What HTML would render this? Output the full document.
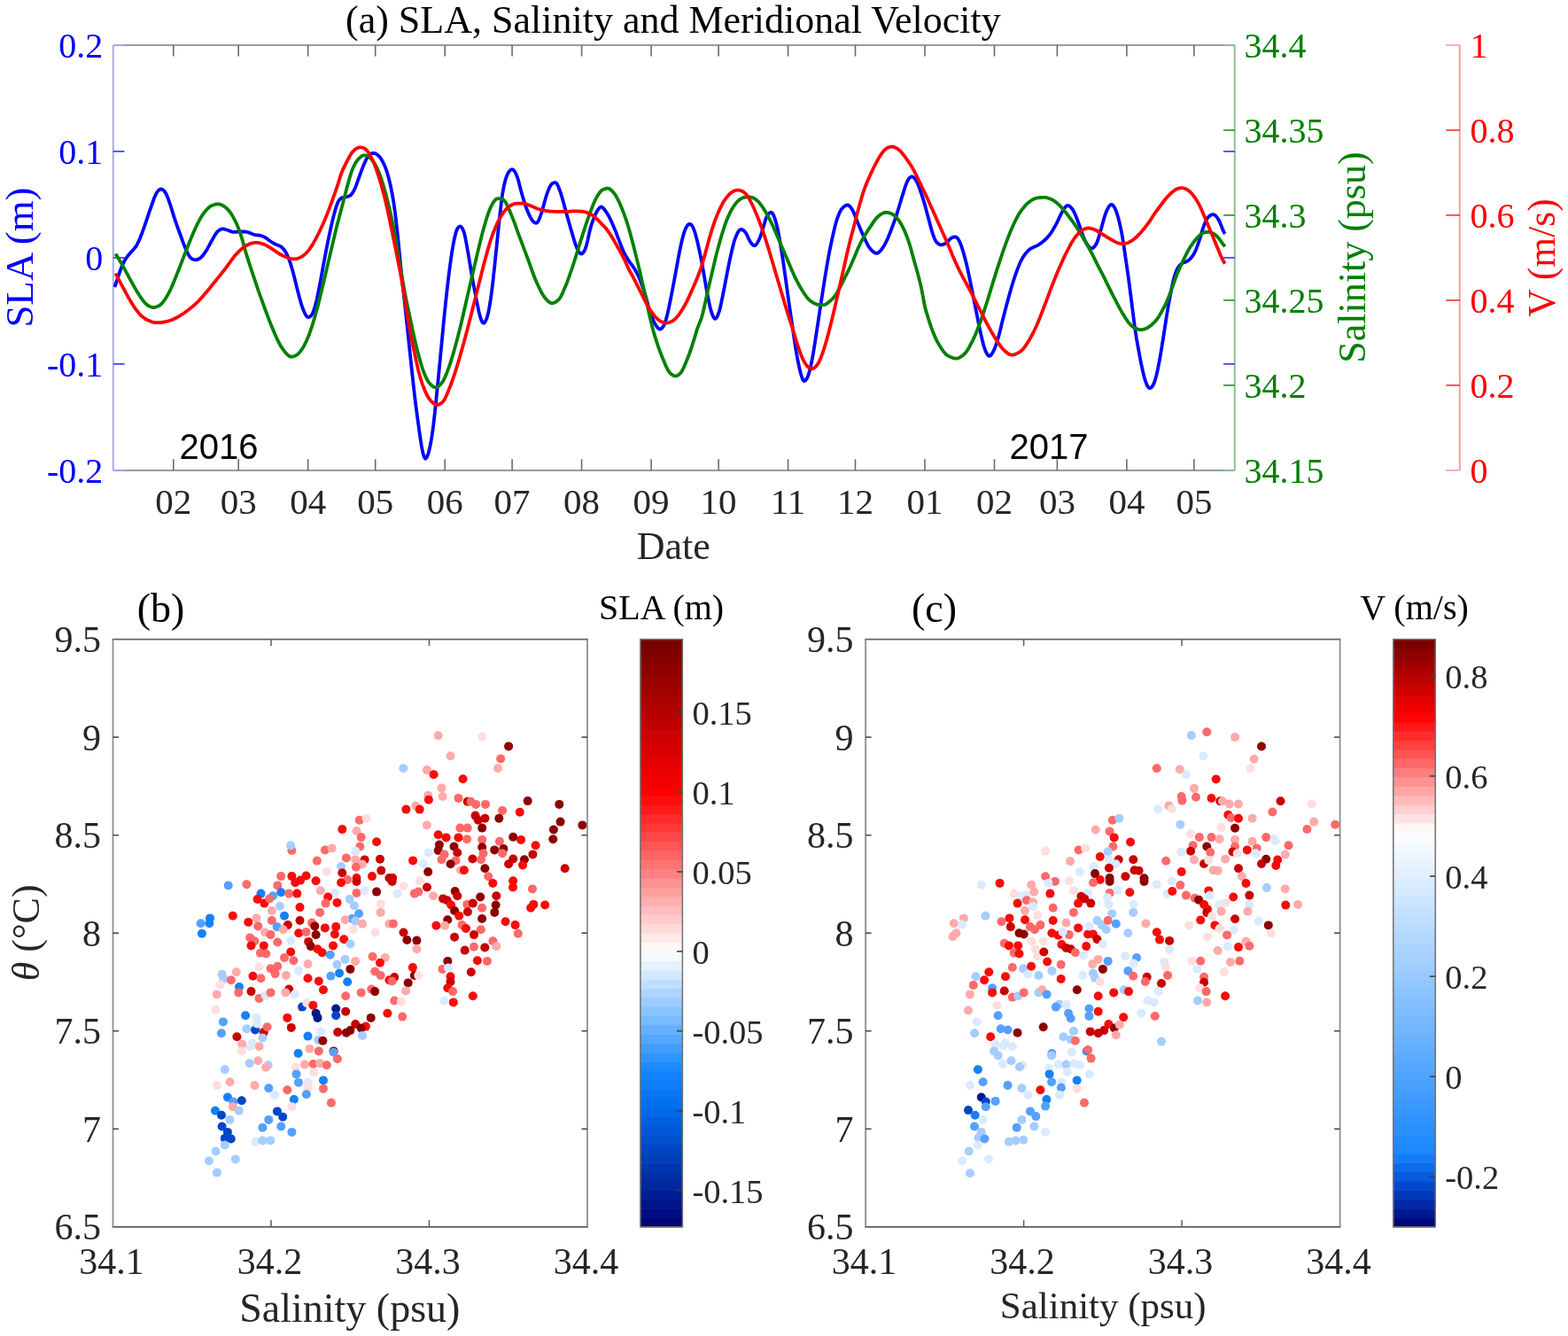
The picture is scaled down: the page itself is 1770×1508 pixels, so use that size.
<!DOCTYPE html>
<html><head><meta charset="utf-8"><title>SLA, Salinity and Meridional Velocity</title>
<style>html,body{margin:0;padding:0;background:#fff;}svg{display:block;}</style></head>
<body><svg width="1770" height="1508" viewBox="0 0 1770 1508"><line x1="127.8" y1="50.9" x2="1393.8" y2="50.9" stroke="#9a9a9a" stroke-width="2"/>
<line x1="127.8" y1="531.0" x2="1393.8" y2="531.0" stroke="#9a9a9a" stroke-width="2"/>
<line x1="127.8" y1="50.9" x2="127.8" y2="531.0" stroke="#a8a8f6" stroke-width="2"/>
<line x1="1393.8" y1="50.9" x2="1393.8" y2="531.0" stroke="#8cc28c" stroke-width="2"/>
<line x1="195.8" y1="50.9" x2="195.8" y2="63.6" stroke="#6a6a6a" stroke-width="1.6"/>
<line x1="195.8" y1="531.0" x2="195.8" y2="518.3" stroke="#6a6a6a" stroke-width="1.6"/>
<line x1="269.2" y1="50.9" x2="269.2" y2="63.6" stroke="#6a6a6a" stroke-width="1.6"/>
<line x1="269.2" y1="531.0" x2="269.2" y2="518.3" stroke="#6a6a6a" stroke-width="1.6"/>
<line x1="347.7" y1="50.9" x2="347.7" y2="63.6" stroke="#6a6a6a" stroke-width="1.6"/>
<line x1="347.7" y1="531.0" x2="347.7" y2="518.3" stroke="#6a6a6a" stroke-width="1.6"/>
<line x1="423.7" y1="50.9" x2="423.7" y2="63.6" stroke="#6a6a6a" stroke-width="1.6"/>
<line x1="423.7" y1="531.0" x2="423.7" y2="518.3" stroke="#6a6a6a" stroke-width="1.6"/>
<line x1="502.2" y1="50.9" x2="502.2" y2="63.6" stroke="#6a6a6a" stroke-width="1.6"/>
<line x1="502.2" y1="531.0" x2="502.2" y2="518.3" stroke="#6a6a6a" stroke-width="1.6"/>
<line x1="578.1" y1="50.9" x2="578.1" y2="63.6" stroke="#6a6a6a" stroke-width="1.6"/>
<line x1="578.1" y1="531.0" x2="578.1" y2="518.3" stroke="#6a6a6a" stroke-width="1.6"/>
<line x1="656.6" y1="50.9" x2="656.6" y2="63.6" stroke="#6a6a6a" stroke-width="1.6"/>
<line x1="656.6" y1="531.0" x2="656.6" y2="518.3" stroke="#6a6a6a" stroke-width="1.6"/>
<line x1="735.1" y1="50.9" x2="735.1" y2="63.6" stroke="#6a6a6a" stroke-width="1.6"/>
<line x1="735.1" y1="531.0" x2="735.1" y2="518.3" stroke="#6a6a6a" stroke-width="1.6"/>
<line x1="811.1" y1="50.9" x2="811.1" y2="63.6" stroke="#6a6a6a" stroke-width="1.6"/>
<line x1="811.1" y1="531.0" x2="811.1" y2="518.3" stroke="#6a6a6a" stroke-width="1.6"/>
<line x1="889.6" y1="50.9" x2="889.6" y2="63.6" stroke="#6a6a6a" stroke-width="1.6"/>
<line x1="889.6" y1="531.0" x2="889.6" y2="518.3" stroke="#6a6a6a" stroke-width="1.6"/>
<line x1="965.5" y1="50.9" x2="965.5" y2="63.6" stroke="#6a6a6a" stroke-width="1.6"/>
<line x1="965.5" y1="531.0" x2="965.5" y2="518.3" stroke="#6a6a6a" stroke-width="1.6"/>
<line x1="1044.0" y1="50.9" x2="1044.0" y2="63.6" stroke="#6a6a6a" stroke-width="1.6"/>
<line x1="1044.0" y1="531.0" x2="1044.0" y2="518.3" stroke="#6a6a6a" stroke-width="1.6"/>
<line x1="1122.5" y1="50.9" x2="1122.5" y2="63.6" stroke="#6a6a6a" stroke-width="1.6"/>
<line x1="1122.5" y1="531.0" x2="1122.5" y2="518.3" stroke="#6a6a6a" stroke-width="1.6"/>
<line x1="1193.4" y1="50.9" x2="1193.4" y2="63.6" stroke="#6a6a6a" stroke-width="1.6"/>
<line x1="1193.4" y1="531.0" x2="1193.4" y2="518.3" stroke="#6a6a6a" stroke-width="1.6"/>
<line x1="1271.9" y1="50.9" x2="1271.9" y2="63.6" stroke="#6a6a6a" stroke-width="1.6"/>
<line x1="1271.9" y1="531.0" x2="1271.9" y2="518.3" stroke="#6a6a6a" stroke-width="1.6"/>
<line x1="1347.9" y1="50.9" x2="1347.9" y2="63.6" stroke="#6a6a6a" stroke-width="1.6"/>
<line x1="1347.9" y1="531.0" x2="1347.9" y2="518.3" stroke="#6a6a6a" stroke-width="1.6"/>
<line x1="127.8" y1="50.9" x2="140.5" y2="50.9" stroke="#a8a8f6" stroke-width="1.6"/>
<text x="116.3" y="65.1" font-size="40" fill="#0000ff" text-anchor="end" font-family="'Liberation Serif','Times New Roman',serif">0.2</text>
<line x1="127.8" y1="170.9" x2="140.5" y2="170.9" stroke="#3030fa" stroke-width="1.6"/>
<line x1="1393.8" y1="170.9" x2="1381.1" y2="170.9" stroke="#3030fa" stroke-width="1.6"/>
<text x="116.3" y="185.1" font-size="40" fill="#0000ff" text-anchor="end" font-family="'Liberation Serif','Times New Roman',serif">0.1</text>
<line x1="127.8" y1="290.9" x2="140.5" y2="290.9" stroke="#3030fa" stroke-width="1.6"/>
<line x1="1393.8" y1="290.9" x2="1381.1" y2="290.9" stroke="#3030fa" stroke-width="1.6"/>
<text x="116.3" y="305.1" font-size="40" fill="#0000ff" text-anchor="end" font-family="'Liberation Serif','Times New Roman',serif">0</text>
<line x1="127.8" y1="410.9" x2="140.5" y2="410.9" stroke="#3030fa" stroke-width="1.6"/>
<line x1="1393.8" y1="410.9" x2="1381.1" y2="410.9" stroke="#3030fa" stroke-width="1.6"/>
<text x="116.3" y="425.1" font-size="40" fill="#0000ff" text-anchor="end" font-family="'Liberation Serif','Times New Roman',serif">-0.1</text>
<line x1="127.8" y1="530.9" x2="140.5" y2="530.9" stroke="#a8a8f6" stroke-width="1.6"/>
<text x="116.3" y="545.1" font-size="40" fill="#0000ff" text-anchor="end" font-family="'Liberation Serif','Times New Roman',serif">-0.2</text>
<line x1="1393.8" y1="50.9" x2="1381.1" y2="50.9" stroke="#8cc28c" stroke-width="1.6"/>
<text x="1404.5" y="65.1" font-size="40" fill="#008000" text-anchor="start" font-family="'Liberation Serif','Times New Roman',serif">34.4</text>
<line x1="1393.8" y1="146.9" x2="1381.1" y2="146.9" stroke="#2a8a2a" stroke-width="1.6"/>
<text x="1404.5" y="161.1" font-size="40" fill="#008000" text-anchor="start" font-family="'Liberation Serif','Times New Roman',serif">34.35</text>
<line x1="1393.8" y1="242.9" x2="1381.1" y2="242.9" stroke="#2a8a2a" stroke-width="1.6"/>
<text x="1404.5" y="257.1" font-size="40" fill="#008000" text-anchor="start" font-family="'Liberation Serif','Times New Roman',serif">34.3</text>
<line x1="1393.8" y1="338.9" x2="1381.1" y2="338.9" stroke="#2a8a2a" stroke-width="1.6"/>
<text x="1404.5" y="353.1" font-size="40" fill="#008000" text-anchor="start" font-family="'Liberation Serif','Times New Roman',serif">34.25</text>
<line x1="1393.8" y1="434.9" x2="1381.1" y2="434.9" stroke="#2a8a2a" stroke-width="1.6"/>
<text x="1404.5" y="449.1" font-size="40" fill="#008000" text-anchor="start" font-family="'Liberation Serif','Times New Roman',serif">34.2</text>
<line x1="1393.8" y1="530.9" x2="1381.1" y2="530.9" stroke="#8cc28c" stroke-width="1.6"/>
<text x="1404.5" y="545.1" font-size="40" fill="#008000" text-anchor="start" font-family="'Liberation Serif','Times New Roman',serif">34.15</text>
<line x1="1647.8" y1="50.9" x2="1647.8" y2="531.0" stroke="#f6a0a0" stroke-width="2"/>
<line x1="1647.8" y1="50.9" x2="1632.3" y2="50.9" stroke="#f6a0a0" stroke-width="1.6"/>
<text x="1659.5" y="65.1" font-size="40" fill="#ff0000" text-anchor="start" font-family="'Liberation Serif','Times New Roman',serif">1</text>
<line x1="1647.8" y1="146.9" x2="1632.3" y2="146.9" stroke="#f83030" stroke-width="1.6"/>
<text x="1659.5" y="161.1" font-size="40" fill="#ff0000" text-anchor="start" font-family="'Liberation Serif','Times New Roman',serif">0.8</text>
<line x1="1647.8" y1="242.9" x2="1632.3" y2="242.9" stroke="#f83030" stroke-width="1.6"/>
<text x="1659.5" y="257.1" font-size="40" fill="#ff0000" text-anchor="start" font-family="'Liberation Serif','Times New Roman',serif">0.6</text>
<line x1="1647.8" y1="338.9" x2="1632.3" y2="338.9" stroke="#f83030" stroke-width="1.6"/>
<text x="1659.5" y="353.1" font-size="40" fill="#ff0000" text-anchor="start" font-family="'Liberation Serif','Times New Roman',serif">0.4</text>
<line x1="1647.8" y1="434.9" x2="1632.3" y2="434.9" stroke="#f83030" stroke-width="1.6"/>
<text x="1659.5" y="449.1" font-size="40" fill="#ff0000" text-anchor="start" font-family="'Liberation Serif','Times New Roman',serif">0.2</text>
<line x1="1647.8" y1="530.9" x2="1632.3" y2="530.9" stroke="#f6a0a0" stroke-width="1.6"/>
<text x="1659.5" y="545.1" font-size="40" fill="#ff0000" text-anchor="start" font-family="'Liberation Serif','Times New Roman',serif">0</text>
<text x="195.8" y="580.3" font-size="41" fill="#262626" text-anchor="middle" font-family="'Liberation Serif','Times New Roman',serif">02</text>
<text x="269.2" y="580.3" font-size="41" fill="#262626" text-anchor="middle" font-family="'Liberation Serif','Times New Roman',serif">03</text>
<text x="347.7" y="580.3" font-size="41" fill="#262626" text-anchor="middle" font-family="'Liberation Serif','Times New Roman',serif">04</text>
<text x="423.7" y="580.3" font-size="41" fill="#262626" text-anchor="middle" font-family="'Liberation Serif','Times New Roman',serif">05</text>
<text x="502.2" y="580.3" font-size="41" fill="#262626" text-anchor="middle" font-family="'Liberation Serif','Times New Roman',serif">06</text>
<text x="578.1" y="580.3" font-size="41" fill="#262626" text-anchor="middle" font-family="'Liberation Serif','Times New Roman',serif">07</text>
<text x="656.6" y="580.3" font-size="41" fill="#262626" text-anchor="middle" font-family="'Liberation Serif','Times New Roman',serif">08</text>
<text x="735.1" y="580.3" font-size="41" fill="#262626" text-anchor="middle" font-family="'Liberation Serif','Times New Roman',serif">09</text>
<text x="811.1" y="580.3" font-size="41" fill="#262626" text-anchor="middle" font-family="'Liberation Serif','Times New Roman',serif">10</text>
<text x="889.6" y="580.3" font-size="41" fill="#262626" text-anchor="middle" font-family="'Liberation Serif','Times New Roman',serif">11</text>
<text x="965.5" y="580.3" font-size="41" fill="#262626" text-anchor="middle" font-family="'Liberation Serif','Times New Roman',serif">12</text>
<text x="1044.0" y="580.3" font-size="41" fill="#262626" text-anchor="middle" font-family="'Liberation Serif','Times New Roman',serif">01</text>
<text x="1122.5" y="580.3" font-size="41" fill="#262626" text-anchor="middle" font-family="'Liberation Serif','Times New Roman',serif">02</text>
<text x="1193.4" y="580.3" font-size="41" fill="#262626" text-anchor="middle" font-family="'Liberation Serif','Times New Roman',serif">03</text>
<text x="1271.9" y="580.3" font-size="41" fill="#262626" text-anchor="middle" font-family="'Liberation Serif','Times New Roman',serif">04</text>
<text x="1347.9" y="580.3" font-size="41" fill="#262626" text-anchor="middle" font-family="'Liberation Serif','Times New Roman',serif">05</text>
<text x="760.2" y="631.0" font-size="44" fill="#262626" text-anchor="middle" font-family="'Liberation Serif','Times New Roman',serif">Date</text>
<text x="759.9" y="36.6" font-size="44" fill="#000" text-anchor="middle" font-family="'Liberation Serif','Times New Roman',serif">(a) SLA, Salinity and Meridional Velocity</text>
<text x="247.0" y="518.3" font-size="40" fill="#000" text-anchor="middle" font-family="'Liberation Sans',Arial,sans-serif">2016</text>
<text x="1184.0" y="518.3" font-size="40" fill="#000" text-anchor="middle" font-family="'Liberation Sans',Arial,sans-serif">2017</text>
<text transform="translate(37.3,290.6) rotate(-90)" font-size="44.8" fill="#0000ff" text-anchor="middle" font-family="'Liberation Serif','Times New Roman',serif">SLA (m)</text>
<text transform="translate(1541.4,290.6) rotate(-90)" font-size="44" fill="#008000" text-anchor="middle" font-family="'Liberation Serif','Times New Roman',serif">Salinity (psu)</text>
<text transform="translate(1755,291) rotate(-90)" font-size="43.5" fill="#ff0000" text-anchor="middle" font-family="'Liberation Serif','Times New Roman',serif">V (m/s)</text>
<path d="M129.3,323.9 L130.8,320.3 L132.3,315.7 L133.8,311.1 L135.3,306.6 L136.8,302.5 L138.3,298.9 L139.8,295.8 L141.3,293.1 L142.8,290.8 L144.3,288.8 L145.8,287.0 L147.3,285.3 L148.8,283.6 L150.3,282.0 L151.8,280.3 L153.3,278.4 L154.8,275.9 L156.3,272.9 L157.8,269.5 L159.3,265.8 L160.8,261.9 L162.3,257.6 L163.8,253.3 L165.3,248.9 L166.8,244.4 L168.3,239.9 L169.8,235.6 L171.3,231.3 L172.8,227.0 L174.3,222.9 L175.8,219.4 L177.3,216.9 L178.8,215.1 L180.3,213.9 L181.8,213.4 L183.3,213.8 L184.8,215.0 L186.3,216.8 L187.8,219.3 L189.3,222.9 L190.8,227.1 L192.3,231.5 L193.8,236.2 L195.3,241.1 L196.8,245.9 L198.3,250.3 L199.8,254.6 L201.3,258.8 L202.8,262.9 L204.3,267.0 L205.8,271.2 L207.3,275.3 L208.8,279.1 L210.3,282.5 L211.8,285.6 L213.3,288.5 L214.8,290.6 L216.3,291.9 L217.8,292.7 L219.3,293.2 L220.8,293.4 L222.3,293.2 L223.8,292.6 L225.3,291.8 L226.8,290.7 L228.3,289.2 L229.8,287.3 L231.3,285.2 L232.8,282.9 L234.3,280.4 L235.8,277.7 L237.3,274.9 L238.8,272.2 L240.3,269.5 L241.8,266.8 L243.3,264.3 L244.8,262.2 L246.3,260.7 L247.8,259.6 L249.3,258.8 L250.8,258.4 L252.3,258.4 L253.8,258.8 L255.3,259.3 L256.8,259.8 L258.3,260.3 L259.8,260.9 L261.3,261.4 L262.8,261.8 L264.3,261.8 L265.8,261.8 L267.3,261.7 L268.8,261.6 L270.3,261.6 L271.8,261.6 L273.3,261.5 L274.8,261.5 L276.3,261.5 L277.8,261.7 L279.3,262.0 L280.8,262.5 L282.3,263.1 L283.8,263.7 L285.3,264.3 L286.8,264.8 L288.3,265.1 L289.8,265.3 L291.3,265.5 L292.8,265.7 L294.3,266.0 L295.8,266.5 L297.3,267.1 L298.8,267.8 L300.3,268.7 L301.8,269.7 L303.3,270.9 L304.8,272.0 L306.3,273.0 L307.8,274.0 L309.3,274.8 L310.8,275.6 L312.3,276.3 L313.8,276.8 L315.3,277.4 L316.8,278.1 L318.3,279.3 L319.8,280.8 L321.3,282.7 L322.8,285.1 L324.3,288.1 L325.8,291.6 L327.3,295.7 L328.8,300.4 L330.3,305.5 L331.8,311.2 L333.3,317.2 L334.8,323.2 L336.3,329.3 L337.8,335.1 L339.3,340.4 L340.8,345.3 L342.3,349.6 L343.8,353.1 L345.3,355.9 L346.8,357.7 L348.3,358.1 L349.8,357.5 L351.3,356.2 L352.8,353.9 L354.3,350.0 L355.8,345.0 L357.3,339.1 L358.8,332.3 L360.3,324.9 L361.8,317.1 L363.3,308.8 L364.8,300.5 L366.3,292.5 L367.8,284.6 L369.3,276.9 L370.8,269.6 L372.3,262.5 L373.8,255.7 L375.3,249.1 L376.8,242.9 L378.3,237.4 L379.8,232.6 L381.3,228.6 L382.8,225.9 L384.3,224.3 L385.8,223.3 L387.3,222.8 L388.8,222.6 L390.3,222.3 L391.8,222.0 L393.3,221.6 L394.8,221.0 L396.3,219.9 L397.8,218.0 L399.3,215.4 L400.8,212.4 L402.3,208.6 L403.8,204.3 L405.3,200.1 L406.8,196.0 L408.3,192.0 L409.8,188.1 L411.3,184.6 L412.8,181.2 L414.3,178.3 L415.8,176.2 L417.3,174.7 L418.8,173.6 L420.3,173.0 L421.8,172.8 L423.3,173.1 L424.8,173.9 L426.3,174.9 L427.8,176.3 L429.3,178.0 L430.8,180.3 L432.3,183.0 L433.8,186.1 L435.3,189.8 L436.8,194.2 L438.3,199.3 L439.8,205.1 L441.3,211.6 L442.8,219.2 L444.3,228.1 L445.8,238.7 L447.3,251.1 L448.8,264.8 L450.3,279.7 L451.8,295.2 L453.3,309.7 L454.8,323.2 L456.3,337.0 L457.8,351.1 L459.3,365.3 L460.8,379.5 L462.3,393.7 L463.8,407.7 L465.3,421.7 L466.8,435.5 L468.3,448.6 L469.8,460.7 L471.3,472.0 L472.8,482.8 L474.3,493.5 L475.8,503.3 L477.3,510.9 L478.8,516.0 L480.3,517.8 L481.8,516.2 L483.3,512.5 L484.8,507.1 L486.3,499.7 L487.8,490.5 L489.3,479.5 L490.8,466.2 L492.3,451.7 L493.8,436.9 L495.3,421.7 L496.8,406.1 L498.3,390.4 L499.8,374.5 L501.3,358.9 L502.8,344.1 L504.3,330.2 L505.8,317.1 L507.3,305.0 L508.8,293.8 L510.3,283.7 L511.8,275.0 L513.3,267.7 L514.8,261.8 L516.3,258.0 L517.8,256.1 L519.3,255.4 L520.8,256.2 L522.3,258.5 L523.8,262.3 L525.3,268.5 L526.8,276.5 L528.3,285.0 L529.8,293.9 L531.3,303.1 L532.8,311.9 L534.3,320.1 L535.8,328.0 L537.3,335.7 L538.8,343.4 L540.3,350.6 L541.8,356.6 L543.3,361.3 L544.8,364.3 L546.3,364.8 L547.8,363.0 L549.3,359.7 L550.8,354.8 L552.3,347.4 L553.8,338.1 L555.3,327.2 L556.8,314.4 L558.3,300.4 L559.8,285.9 L561.3,271.0 L562.8,256.3 L564.3,242.5 L565.8,229.5 L567.3,218.3 L568.8,210.0 L570.3,203.9 L571.8,199.2 L573.3,195.7 L574.8,193.4 L576.3,191.9 L577.8,191.2 L579.3,191.5 L580.8,193.2 L582.3,195.9 L583.8,199.5 L585.3,204.3 L586.8,210.2 L588.3,216.0 L589.8,221.3 L591.3,226.3 L592.8,231.0 L594.3,235.3 L595.8,239.0 L597.3,242.3 L598.8,245.4 L600.3,248.0 L601.8,249.9 L603.3,251.1 L604.8,251.8 L606.3,251.5 L607.8,249.3 L609.3,245.8 L610.8,241.7 L612.3,236.9 L613.8,231.3 L615.3,225.7 L616.8,220.6 L618.3,216.4 L619.8,212.7 L621.3,209.7 L622.8,207.7 L624.3,206.7 L625.8,206.1 L627.3,206.2 L628.8,207.7 L630.3,210.8 L631.8,214.7 L633.3,219.0 L634.8,224.0 L636.3,229.5 L637.8,235.1 L639.3,240.6 L640.8,245.9 L642.3,251.3 L643.8,256.5 L645.3,261.6 L646.8,266.7 L648.3,271.7 L649.8,276.4 L651.3,280.2 L652.8,283.2 L654.3,285.4 L655.8,286.6 L657.3,286.2 L658.8,284.5 L660.3,281.9 L661.8,277.7 L663.3,271.6 L664.8,264.7 L666.3,258.4 L667.8,253.2 L669.3,248.9 L670.8,244.9 L672.3,241.6 L673.8,238.7 L675.3,236.3 L676.8,234.3 L678.3,233.4 L679.8,233.8 L681.3,235.3 L682.8,237.2 L684.3,239.3 L685.8,241.5 L687.3,244.2 L688.8,247.2 L690.3,250.4 L691.8,253.7 L693.3,257.2 L694.8,260.9 L696.3,264.8 L697.8,268.7 L699.3,272.6 L700.8,276.5 L702.3,280.3 L703.8,283.8 L705.3,286.8 L706.8,289.6 L708.3,292.1 L709.8,294.4 L711.3,296.6 L712.8,298.5 L714.3,300.5 L715.8,302.8 L717.3,305.3 L718.8,308.0 L720.3,311.0 L721.8,314.3 L723.3,318.0 L724.8,322.1 L726.3,326.5 L727.8,331.1 L729.3,336.2 L730.8,341.6 L732.3,346.9 L733.8,351.7 L735.3,356.1 L736.8,360.1 L738.3,363.6 L739.8,366.3 L741.3,368.5 L742.8,370.4 L744.3,371.5 L745.8,371.5 L747.3,370.4 L748.8,368.5 L750.3,365.4 L751.8,360.8 L753.3,355.1 L754.8,348.4 L756.3,341.1 L757.8,333.5 L759.3,325.8 L760.8,317.9 L762.3,309.9 L763.8,301.6 L765.3,293.3 L766.8,285.4 L768.3,278.2 L769.8,271.5 L771.3,265.6 L772.8,260.8 L774.3,257.2 L775.8,254.7 L777.3,253.2 L778.8,252.8 L780.3,253.7 L781.8,255.7 L783.3,259.0 L784.8,263.5 L786.3,269.0 L787.8,275.3 L789.3,282.1 L790.8,289.1 L792.3,296.7 L793.8,305.1 L795.3,313.8 L796.8,322.6 L798.3,331.0 L799.8,338.7 L801.3,345.7 L802.8,351.4 L804.3,355.7 L805.8,358.7 L807.3,359.9 L808.8,358.7 L810.3,355.9 L811.8,351.7 L813.3,345.9 L814.8,338.9 L816.3,331.5 L817.8,323.8 L819.3,316.0 L820.8,308.2 L822.3,300.6 L823.8,293.3 L825.3,286.4 L826.8,280.0 L828.3,274.1 L829.8,269.3 L831.3,265.6 L832.8,262.5 L834.3,260.2 L835.8,259.0 L837.3,259.0 L838.8,259.8 L840.3,260.9 L841.8,262.7 L843.3,265.5 L844.8,268.9 L846.3,271.9 L847.8,274.2 L849.3,276.0 L850.8,277.2 L852.3,277.2 L853.8,275.8 L855.3,273.4 L856.8,270.5 L858.3,266.9 L859.8,262.5 L861.3,257.7 L862.8,252.4 L864.3,247.4 L865.8,243.7 L867.3,241.6 L868.8,240.3 L870.3,239.7 L871.8,240.5 L873.3,243.2 L874.8,247.1 L876.3,252.1 L877.8,258.5 L879.3,266.2 L880.8,274.6 L882.3,283.7 L883.8,293.6 L885.3,303.8 L886.8,314.4 L888.3,325.3 L889.8,336.2 L891.3,346.7 L892.8,357.1 L894.3,367.3 L895.8,377.5 L897.3,387.6 L898.8,397.0 L900.3,405.3 L901.8,412.7 L903.3,419.2 L904.8,424.7 L906.3,428.8 L907.8,430.2 L909.3,429.3 L910.8,427.2 L912.3,424.0 L913.8,419.0 L915.3,412.6 L916.8,405.3 L918.3,396.8 L919.8,387.5 L921.3,378.0 L922.8,368.1 L924.3,358.1 L925.8,348.1 L927.3,338.4 L928.8,328.7 L930.3,319.2 L931.8,309.8 L933.3,300.7 L934.8,292.1 L936.3,284.1 L937.8,276.7 L939.3,269.7 L940.8,263.0 L942.3,256.6 L943.8,250.8 L945.3,246.1 L946.8,242.2 L948.3,238.8 L949.8,236.3 L951.3,234.6 L952.8,233.2 L954.3,232.1 L955.8,231.5 L957.3,231.5 L958.8,232.4 L960.3,234.0 L961.8,236.1 L963.3,239.0 L964.8,242.6 L966.3,246.3 L967.8,250.1 L969.3,253.9 L970.8,257.5 L972.3,261.1 L973.8,264.5 L975.3,267.7 L976.8,270.9 L978.3,274.0 L979.8,276.9 L981.3,279.4 L982.8,281.4 L984.3,282.9 L985.8,284.2 L987.3,285.2 L988.8,285.9 L990.3,285.8 L991.8,285.0 L993.3,283.6 L994.8,282.0 L996.3,280.0 L997.8,277.6 L999.3,274.9 L1000.8,272.0 L1002.3,268.7 L1003.8,265.0 L1005.3,261.2 L1006.8,257.2 L1008.3,253.3 L1009.8,249.2 L1011.3,244.9 L1012.8,240.2 L1014.3,235.3 L1015.8,230.3 L1017.3,225.3 L1018.8,220.4 L1020.3,215.6 L1021.8,210.9 L1023.3,206.7 L1024.8,203.5 L1026.3,201.2 L1027.8,199.8 L1029.3,199.3 L1030.8,199.9 L1032.3,201.2 L1033.8,203.2 L1035.3,206.0 L1036.8,209.6 L1038.3,213.6 L1039.8,217.8 L1041.3,222.3 L1042.8,227.1 L1044.3,232.3 L1045.8,237.9 L1047.3,243.6 L1048.8,249.3 L1050.3,255.0 L1051.8,260.4 L1053.3,265.1 L1054.8,269.0 L1056.3,272.1 L1057.8,274.1 L1059.3,275.3 L1060.8,276.1 L1062.3,276.4 L1063.8,276.2 L1065.3,275.7 L1066.8,275.0 L1068.3,274.0 L1069.8,272.7 L1071.3,271.0 L1072.8,269.4 L1074.3,268.4 L1075.8,267.8 L1077.3,267.4 L1078.8,267.4 L1080.3,268.3 L1081.8,270.2 L1083.3,273.0 L1084.8,276.6 L1086.3,281.0 L1087.8,285.9 L1089.3,291.4 L1090.8,297.3 L1092.3,303.8 L1093.8,310.9 L1095.3,318.1 L1096.8,325.4 L1098.3,332.9 L1099.8,340.5 L1101.3,348.1 L1102.8,355.7 L1104.3,363.2 L1105.8,370.5 L1107.3,377.3 L1108.8,383.8 L1110.3,389.7 L1111.8,394.5 L1113.3,398.0 L1114.8,400.5 L1116.3,401.9 L1117.8,401.6 L1119.3,400.0 L1120.8,397.5 L1122.3,394.6 L1123.8,390.8 L1125.3,386.3 L1126.8,381.4 L1128.3,375.8 L1129.8,369.7 L1131.3,363.4 L1132.8,357.5 L1134.3,351.6 L1135.8,345.9 L1137.3,340.2 L1138.8,334.8 L1140.3,329.5 L1141.8,324.3 L1143.3,319.3 L1144.8,314.5 L1146.3,310.1 L1147.8,305.9 L1149.3,301.9 L1150.8,298.1 L1152.3,294.8 L1153.8,292.1 L1155.3,289.6 L1156.8,287.4 L1158.3,285.4 L1159.8,283.7 L1161.3,282.3 L1162.8,281.1 L1164.3,280.2 L1165.8,279.4 L1167.3,278.7 L1168.8,278.1 L1170.3,277.4 L1171.8,276.6 L1173.3,275.7 L1174.8,274.7 L1176.3,273.6 L1177.8,272.3 L1179.3,271.0 L1180.8,269.6 L1182.3,268.0 L1183.8,266.3 L1185.3,264.4 L1186.8,262.3 L1188.3,259.9 L1189.8,257.3 L1191.3,254.7 L1192.8,251.9 L1194.3,248.8 L1195.8,245.6 L1197.3,242.4 L1198.8,239.5 L1200.3,237.0 L1201.8,234.8 L1203.3,232.9 L1204.8,232.0 L1206.3,232.1 L1207.8,233.1 L1209.3,234.6 L1210.8,236.5 L1212.3,239.1 L1213.8,242.3 L1215.3,246.0 L1216.8,250.0 L1218.3,254.0 L1219.8,258.3 L1221.3,262.7 L1222.8,267.0 L1224.3,270.6 L1225.8,273.4 L1227.3,275.9 L1228.8,278.0 L1230.3,279.6 L1231.8,280.4 L1233.3,280.2 L1234.8,279.0 L1236.3,277.2 L1237.8,274.8 L1239.3,271.0 L1240.8,266.1 L1242.3,260.8 L1243.8,255.4 L1245.3,249.9 L1246.8,244.7 L1248.3,240.3 L1249.8,236.8 L1251.3,233.9 L1252.8,231.9 L1254.3,230.9 L1255.8,231.2 L1257.3,232.9 L1258.8,235.7 L1260.3,239.4 L1261.8,244.0 L1263.3,249.7 L1264.8,256.1 L1266.3,263.5 L1267.8,272.3 L1269.3,282.4 L1270.8,292.7 L1272.3,303.0 L1273.8,313.6 L1275.3,324.9 L1276.8,336.6 L1278.3,348.6 L1279.8,360.3 L1281.3,371.4 L1282.8,381.3 L1284.3,389.9 L1285.8,398.0 L1287.3,406.0 L1288.8,413.5 L1290.3,420.2 L1291.8,426.2 L1293.3,431.1 L1294.8,434.7 L1296.3,437.2 L1297.8,438.3 L1299.3,437.8 L1300.8,436.1 L1302.3,433.4 L1303.8,429.3 L1305.3,424.0 L1306.8,417.5 L1308.3,409.9 L1309.8,401.6 L1311.3,392.7 L1312.8,383.4 L1314.3,373.8 L1315.8,363.9 L1317.3,354.3 L1318.8,345.3 L1320.3,336.9 L1321.8,329.1 L1323.3,321.9 L1324.8,315.4 L1326.3,310.1 L1327.8,305.9 L1329.3,302.7 L1330.8,300.5 L1332.3,298.9 L1333.8,297.7 L1335.3,296.8 L1336.8,296.2 L1338.3,295.7 L1339.8,295.0 L1341.3,294.0 L1342.8,292.8 L1344.3,291.4 L1345.8,289.5 L1347.3,287.2 L1348.8,284.5 L1350.3,281.2 L1351.8,277.2 L1353.3,272.8 L1354.8,268.1 L1356.3,263.1 L1357.8,258.2 L1359.3,253.9 L1360.8,250.4 L1362.3,247.4 L1363.8,245.2 L1365.3,243.8 L1366.8,242.8 L1368.3,242.2 L1369.8,242.1 L1371.3,242.8 L1372.8,244.1 L1374.3,245.9 L1375.8,248.4 L1377.3,251.6 L1378.8,255.4 L1380.3,259.2 L1381.8,262.4 L1382.8,263.8" fill="none" stroke="#0000ff" stroke-width="3.8" stroke-linejoin="round" stroke-linecap="butt"/>
<path d="M130.3,286.6 L131.8,288.5 L133.3,290.9 L134.8,293.4 L136.3,296.0 L137.8,298.7 L139.3,301.4 L140.8,304.2 L142.3,306.9 L143.8,309.7 L145.3,312.4 L146.8,315.1 L148.3,317.9 L149.8,320.6 L151.3,323.3 L152.8,325.9 L154.3,328.5 L155.8,330.9 L157.3,333.3 L158.8,335.5 L160.3,337.6 L161.8,339.6 L163.3,341.5 L164.8,343.1 L166.3,344.3 L167.8,345.3 L169.3,346.0 L170.8,346.6 L172.3,347.0 L173.8,347.0 L175.3,346.8 L176.8,346.3 L178.3,345.7 L179.8,344.9 L181.3,343.9 L182.8,342.4 L184.3,340.6 L185.8,338.5 L187.3,336.3 L188.8,333.8 L190.3,331.1 L191.8,328.2 L193.3,325.0 L194.8,321.6 L196.3,318.0 L197.8,314.3 L199.3,310.6 L200.8,306.8 L202.3,303.0 L203.8,299.1 L205.3,295.2 L206.8,291.4 L208.3,287.5 L209.8,283.6 L211.3,279.8 L212.8,276.0 L214.3,272.3 L215.8,268.6 L217.3,265.0 L218.8,261.5 L220.3,258.2 L221.8,255.0 L223.3,251.9 L224.8,249.0 L226.3,246.3 L227.8,243.8 L229.3,241.6 L230.8,239.5 L232.3,237.7 L233.8,236.1 L235.3,234.7 L236.8,233.4 L238.3,232.4 L239.8,231.7 L241.3,231.2 L242.8,230.7 L244.3,230.4 L245.8,230.3 L247.3,230.4 L248.8,230.8 L250.3,231.4 L251.8,232.2 L253.3,233.1 L254.8,234.2 L256.3,235.6 L257.8,237.2 L259.3,239.0 L260.8,241.0 L262.3,243.4 L263.8,246.1 L265.3,249.0 L266.8,252.1 L268.3,255.5 L269.8,259.2 L271.3,263.5 L272.8,268.2 L274.3,273.4 L275.8,278.8 L277.3,284.2 L278.8,289.3 L280.3,294.1 L281.8,298.6 L283.3,303.1 L284.8,307.6 L286.3,312.2 L287.8,316.7 L289.3,321.2 L290.8,325.6 L292.3,329.9 L293.8,334.1 L295.3,338.2 L296.8,342.3 L298.3,346.5 L299.8,350.6 L301.3,354.7 L302.8,358.7 L304.3,362.5 L305.8,366.3 L307.3,369.9 L308.8,373.5 L310.3,377.1 L311.8,380.5 L313.3,383.7 L314.8,386.6 L316.3,389.4 L317.8,391.9 L319.3,394.2 L320.8,396.2 L322.3,398.0 L323.8,399.6 L325.3,401.0 L326.8,402.1 L328.3,402.6 L329.8,402.6 L331.3,402.3 L332.8,401.8 L334.3,401.1 L335.8,400.1 L337.3,398.7 L338.8,396.9 L340.3,395.0 L341.8,392.7 L343.3,390.1 L344.8,387.2 L346.3,384.0 L347.8,380.5 L349.3,376.6 L350.8,372.4 L352.3,367.9 L353.8,363.0 L355.3,358.0 L356.8,352.7 L358.3,347.2 L359.8,341.3 L361.3,335.3 L362.8,329.1 L364.3,322.8 L365.8,316.5 L367.3,310.0 L368.8,303.5 L370.3,297.1 L371.8,290.7 L373.3,284.4 L374.8,278.0 L376.3,271.6 L377.8,265.2 L379.3,258.9 L380.8,253.0 L382.3,247.4 L383.8,241.8 L385.3,236.1 L386.8,230.3 L388.3,224.5 L389.8,218.6 L391.3,212.9 L392.8,207.3 L394.3,202.0 L395.8,196.9 L397.3,192.5 L398.8,189.0 L400.3,185.9 L401.8,183.2 L403.3,181.1 L404.8,179.3 L406.3,177.9 L407.8,176.6 L409.3,175.7 L410.8,175.3 L412.3,175.3 L413.8,175.7 L415.3,176.3 L416.8,177.2 L418.3,178.6 L419.8,180.3 L421.3,182.2 L422.8,184.5 L424.3,187.2 L425.8,190.3 L427.3,193.8 L428.8,197.5 L430.3,201.7 L431.8,206.3 L433.3,211.3 L434.8,216.6 L436.3,222.2 L437.8,228.2 L439.3,234.3 L440.8,240.8 L442.3,247.6 L443.8,254.8 L445.3,262.5 L446.8,270.9 L448.3,279.8 L449.8,289.0 L451.3,298.2 L452.8,307.1 L454.3,315.7 L455.8,324.0 L457.3,332.1 L458.8,339.6 L460.3,346.7 L461.8,353.6 L463.3,360.6 L464.8,367.7 L466.3,374.9 L467.8,381.8 L469.3,388.3 L470.8,394.3 L472.3,399.9 L473.8,405.4 L475.3,410.7 L476.8,415.6 L478.3,419.8 L479.8,423.5 L481.3,426.8 L482.8,429.7 L484.3,431.9 L485.8,433.7 L487.3,435.1 L488.8,436.2 L490.3,437.0 L491.8,437.3 L493.3,436.9 L494.8,436.1 L496.3,434.9 L497.8,433.3 L499.3,431.4 L500.8,428.9 L502.3,425.8 L503.8,422.2 L505.3,418.4 L506.8,414.4 L508.3,409.9 L509.8,405.2 L511.3,400.2 L512.8,395.0 L514.3,389.7 L515.8,384.1 L517.3,378.3 L518.8,372.4 L520.3,366.3 L521.8,359.9 L523.3,353.3 L524.8,346.7 L526.3,340.1 L527.8,333.6 L529.3,327.1 L530.8,320.7 L532.3,314.3 L533.8,307.9 L535.3,301.4 L536.8,295.0 L538.3,288.6 L539.8,282.3 L541.3,276.1 L542.8,270.0 L544.3,264.1 L545.8,258.5 L547.3,253.2 L548.8,248.2 L550.3,243.4 L551.8,239.0 L553.3,235.3 L554.8,232.1 L556.3,229.4 L557.8,227.1 L559.3,225.3 L560.8,224.3 L562.3,224.1 L563.8,224.1 L565.3,224.4 L566.8,224.9 L568.3,225.6 L569.8,227.0 L571.3,229.3 L572.8,232.3 L574.3,235.6 L575.8,239.1 L577.3,242.7 L578.8,246.4 L580.3,250.2 L581.8,254.3 L583.3,258.6 L584.8,262.8 L586.3,266.8 L587.8,270.8 L589.3,274.8 L590.8,278.8 L592.3,282.8 L593.8,286.8 L595.3,290.9 L596.8,294.9 L598.3,299.1 L599.8,303.3 L601.3,307.5 L602.8,311.5 L604.3,315.3 L605.8,318.7 L607.3,322.0 L608.8,325.2 L610.3,328.3 L611.8,331.1 L613.3,333.6 L614.8,335.7 L616.3,337.5 L617.8,339.1 L619.3,340.5 L620.8,341.6 L622.3,342.2 L623.8,342.2 L625.3,341.8 L626.8,341.1 L628.3,340.1 L629.8,339.0 L631.3,337.5 L632.8,335.3 L634.3,332.4 L635.8,329.1 L637.3,325.5 L638.8,321.9 L640.3,318.2 L641.8,314.2 L643.3,309.9 L644.8,305.5 L646.3,301.1 L647.8,296.5 L649.3,291.8 L650.8,287.0 L652.3,282.1 L653.8,277.2 L655.3,272.5 L656.8,267.8 L658.3,263.1 L659.8,258.4 L661.3,253.9 L662.8,249.4 L664.3,245.2 L665.8,241.1 L667.3,237.0 L668.8,233.1 L670.3,229.3 L671.8,226.0 L673.3,223.0 L674.8,220.5 L676.3,218.2 L677.8,216.3 L679.3,214.8 L680.8,214.0 L682.3,213.4 L683.8,212.9 L685.3,212.6 L686.8,212.7 L688.3,213.3 L689.8,214.5 L691.3,215.9 L692.8,217.6 L694.3,219.6 L695.8,222.1 L697.3,224.8 L698.8,227.8 L700.3,231.2 L701.8,234.8 L703.3,238.6 L704.8,242.7 L706.3,246.9 L707.8,251.4 L709.3,256.2 L710.8,261.3 L712.3,266.8 L713.8,272.5 L715.3,278.3 L716.8,284.2 L718.3,290.1 L719.8,296.1 L721.3,302.4 L722.8,308.8 L724.3,315.5 L725.8,322.2 L727.3,329.0 L728.8,335.9 L730.3,342.9 L731.8,349.8 L733.3,356.5 L734.8,362.9 L736.3,369.0 L737.8,374.6 L739.3,379.6 L740.8,384.4 L742.3,389.0 L743.8,393.4 L745.3,397.5 L746.8,401.3 L748.3,405.0 L749.8,408.6 L751.3,412.2 L752.8,415.5 L754.3,418.3 L755.8,420.5 L757.3,421.9 L758.8,423.1 L760.3,424.0 L761.8,424.4 L763.3,424.4 L764.8,423.8 L766.3,422.8 L767.8,421.5 L769.3,419.6 L770.8,417.0 L772.3,413.7 L773.8,410.2 L775.3,406.6 L776.8,402.8 L778.3,398.8 L779.8,394.5 L781.3,390.1 L782.8,385.4 L784.3,380.5 L785.8,375.4 L787.3,370.5 L788.8,366.6 L790.3,363.1 L791.8,359.1 L793.3,353.7 L794.8,347.3 L796.3,340.5 L797.8,333.6 L799.3,326.8 L800.8,320.3 L802.3,314.1 L803.8,307.8 L805.3,301.4 L806.8,295.0 L808.3,288.8 L809.8,282.9 L811.3,277.2 L812.8,271.8 L814.3,266.6 L815.8,261.7 L817.3,257.0 L818.8,252.5 L820.3,248.5 L821.8,244.9 L823.3,241.7 L824.8,238.7 L826.3,236.0 L827.8,233.5 L829.3,231.3 L830.8,229.3 L832.3,227.6 L833.8,226.2 L835.3,225.0 L836.8,224.1 L838.3,223.4 L839.8,222.9 L841.3,222.6 L842.8,222.4 L844.3,222.3 L845.8,222.4 L847.3,222.6 L848.8,222.9 L850.3,223.4 L851.8,224.2 L853.3,225.2 L854.8,226.4 L856.3,227.8 L857.8,229.6 L859.3,231.6 L860.8,233.8 L862.3,236.1 L863.8,238.5 L865.3,241.1 L866.8,243.8 L868.3,246.6 L869.8,249.6 L871.3,252.6 L872.8,255.8 L874.3,259.2 L875.8,262.7 L877.3,266.2 L878.8,269.7 L880.3,273.2 L881.8,276.7 L883.3,280.2 L884.8,283.7 L886.3,287.2 L887.8,290.7 L889.3,294.2 L890.8,297.8 L892.3,301.3 L893.8,304.9 L895.3,308.3 L896.8,311.6 L898.3,314.7 L899.8,317.7 L901.3,320.5 L902.8,323.2 L904.3,325.8 L905.8,328.2 L907.3,330.6 L908.8,332.8 L910.3,334.9 L911.8,336.8 L913.3,338.4 L914.8,339.7 L916.3,340.7 L917.8,341.7 L919.3,342.4 L920.8,343.1 L922.3,343.7 L923.8,344.1 L925.3,344.2 L926.8,344.2 L928.3,344.2 L929.8,344.2 L931.3,343.9 L932.8,343.1 L934.3,342.0 L935.8,340.8 L937.3,339.6 L938.8,338.2 L940.3,336.6 L941.8,334.9 L943.3,332.8 L944.8,330.4 L946.3,327.8 L947.8,325.1 L949.3,322.2 L950.8,319.2 L952.3,316.2 L953.8,313.2 L955.3,310.2 L956.8,307.2 L958.3,304.2 L959.8,301.0 L961.3,297.6 L962.8,294.1 L964.3,290.5 L965.8,286.9 L967.3,283.3 L968.8,279.8 L970.3,276.5 L971.8,273.5 L973.3,270.7 L974.8,268.1 L976.3,265.6 L977.8,263.1 L979.3,260.7 L980.8,258.4 L982.3,256.2 L983.8,253.9 L985.3,251.6 L986.8,249.4 L988.3,247.4 L989.8,245.7 L991.3,244.2 L992.8,243.0 L994.3,241.9 L995.8,241.1 L997.3,240.4 L998.8,239.9 L1000.3,239.7 L1001.8,239.8 L1003.3,240.1 L1004.8,240.6 L1006.3,241.3 L1007.8,242.0 L1009.3,243.1 L1010.8,244.4 L1012.3,245.9 L1013.8,247.7 L1015.3,249.8 L1016.8,252.2 L1018.3,254.9 L1019.8,257.9 L1021.3,261.1 L1022.8,264.7 L1024.3,268.6 L1025.8,272.9 L1027.3,277.6 L1028.8,282.9 L1030.3,288.6 L1031.8,294.0 L1033.3,299.3 L1034.8,304.6 L1036.3,310.0 L1037.8,315.8 L1039.3,321.9 L1040.8,328.9 L1042.3,337.2 L1043.8,345.1 L1045.3,350.9 L1046.8,355.9 L1048.3,360.7 L1049.8,365.4 L1051.3,369.9 L1052.8,373.9 L1054.3,377.5 L1055.8,380.9 L1057.3,384.1 L1058.8,387.0 L1060.3,389.6 L1061.8,392.0 L1063.3,394.2 L1064.8,396.3 L1066.3,398.3 L1067.8,399.9 L1069.3,401.1 L1070.8,401.9 L1072.3,402.7 L1073.8,403.3 L1075.3,403.9 L1076.8,404.3 L1078.3,404.6 L1079.8,404.6 L1081.3,404.3 L1082.8,403.7 L1084.3,402.9 L1085.8,401.9 L1087.3,400.7 L1088.8,399.4 L1090.3,397.7 L1091.8,395.6 L1093.3,393.2 L1094.8,390.5 L1096.3,387.7 L1097.8,384.8 L1099.3,381.7 L1100.8,378.3 L1102.3,374.7 L1103.8,370.9 L1105.3,367.0 L1106.8,363.0 L1108.3,358.7 L1109.8,354.3 L1111.3,349.7 L1112.8,345.0 L1114.3,340.3 L1115.8,335.5 L1117.3,330.7 L1118.8,325.8 L1120.3,320.8 L1121.8,315.9 L1123.3,311.1 L1124.8,306.4 L1126.3,301.7 L1127.8,297.1 L1129.3,292.5 L1130.8,288.0 L1132.3,283.6 L1133.8,279.3 L1135.3,275.2 L1136.8,271.1 L1138.3,267.2 L1139.8,263.4 L1141.3,259.7 L1142.8,256.3 L1144.3,253.0 L1145.8,249.8 L1147.3,246.8 L1148.8,244.0 L1150.3,241.5 L1151.8,239.1 L1153.3,237.0 L1154.8,235.1 L1156.3,233.2 L1157.8,231.5 L1159.3,230.1 L1160.8,228.8 L1162.3,227.6 L1163.8,226.5 L1165.3,225.5 L1166.8,224.7 L1168.3,224.1 L1169.8,223.7 L1171.3,223.4 L1172.8,223.2 L1174.3,223.0 L1175.8,222.9 L1177.3,222.8 L1178.8,222.8 L1180.3,222.9 L1181.8,223.2 L1183.3,223.7 L1184.8,224.2 L1186.3,224.8 L1187.8,225.5 L1189.3,226.3 L1190.8,227.3 L1192.3,228.5 L1193.8,229.8 L1195.3,231.2 L1196.8,232.6 L1198.3,234.2 L1199.8,235.9 L1201.3,237.6 L1202.8,239.5 L1204.3,241.4 L1205.8,243.3 L1207.3,245.3 L1208.8,247.3 L1210.3,249.3 L1211.8,251.5 L1213.3,253.6 L1214.8,255.9 L1216.3,258.2 L1217.8,260.6 L1219.3,263.0 L1220.8,265.4 L1222.3,267.9 L1223.8,270.4 L1225.3,272.9 L1226.8,275.6 L1228.3,278.2 L1229.8,281.0 L1231.3,283.8 L1232.8,286.6 L1234.3,289.6 L1235.8,292.6 L1237.3,295.6 L1238.8,298.7 L1240.3,301.6 L1241.8,304.5 L1243.3,307.3 L1244.8,310.2 L1246.3,313.2 L1247.8,316.2 L1249.3,319.3 L1250.8,322.3 L1252.3,325.3 L1253.8,328.3 L1255.3,331.3 L1256.8,334.3 L1258.3,337.2 L1259.8,340.1 L1261.3,343.0 L1262.8,345.8 L1264.3,348.6 L1265.8,351.3 L1267.3,353.9 L1268.8,356.3 L1270.3,358.7 L1271.8,361.0 L1273.3,363.2 L1274.8,365.1 L1276.3,366.8 L1277.8,368.2 L1279.3,369.3 L1280.8,370.2 L1282.3,370.9 L1283.8,371.4 L1285.3,371.9 L1286.8,372.2 L1288.3,372.2 L1289.8,372.0 L1291.3,371.6 L1292.8,371.1 L1294.3,370.5 L1295.8,369.7 L1297.3,368.7 L1298.8,367.6 L1300.3,366.4 L1301.8,365.0 L1303.3,363.5 L1304.8,361.9 L1306.3,360.0 L1307.8,357.7 L1309.3,355.3 L1310.8,352.6 L1312.3,349.9 L1313.8,347.1 L1315.3,344.2 L1316.8,341.1 L1318.3,337.6 L1319.8,333.9 L1321.3,329.9 L1322.8,325.7 L1324.3,321.6 L1325.8,317.4 L1327.3,313.2 L1328.8,309.3 L1330.3,305.7 L1331.8,302.2 L1333.3,299.0 L1334.8,295.8 L1336.3,292.6 L1337.8,289.5 L1339.3,286.4 L1340.8,283.6 L1342.3,281.0 L1343.8,278.6 L1345.3,276.3 L1346.8,274.2 L1348.3,272.2 L1349.8,270.3 L1351.3,268.6 L1352.8,267.0 L1354.3,265.6 L1355.8,264.4 L1357.3,263.4 L1358.8,262.6 L1360.3,262.2 L1361.8,262.0 L1363.3,261.9 L1364.8,261.9 L1366.3,262.2 L1367.8,262.7 L1369.3,263.4 L1370.8,264.3 L1372.3,265.4 L1373.8,266.8 L1375.3,268.4 L1376.8,270.3 L1378.3,272.4 L1379.8,274.6 L1381.3,276.6 L1382.8,278.2" fill="none" stroke="#008000" stroke-width="3.8" stroke-linejoin="round" stroke-linecap="butt"/>
<path d="M130.3,308.8 L131.8,311.2 L133.3,314.1 L134.8,317.0 L136.3,319.8 L137.8,322.5 L139.3,325.3 L140.8,328.0 L142.3,330.8 L143.8,333.6 L145.3,336.3 L146.8,338.9 L148.3,341.4 L149.8,343.8 L151.3,346.2 L152.8,348.4 L154.3,350.4 L155.8,352.3 L157.3,354.1 L158.8,355.7 L160.3,357.0 L161.8,358.2 L163.3,359.3 L164.8,360.3 L166.3,361.1 L167.8,361.8 L169.3,362.5 L170.8,363.1 L172.3,363.6 L173.8,363.8 L175.3,364.0 L176.8,364.1 L178.3,364.1 L179.8,364.1 L181.3,364.0 L182.8,363.9 L184.3,363.6 L185.8,363.3 L187.3,363.0 L188.8,362.7 L190.3,362.3 L191.8,361.8 L193.3,361.3 L194.8,360.7 L196.3,360.0 L197.8,359.3 L199.3,358.5 L200.8,357.7 L202.3,356.8 L203.8,355.9 L205.3,355.0 L206.8,354.0 L208.3,353.0 L209.8,351.9 L211.3,350.8 L212.8,349.7 L214.3,348.5 L215.8,347.3 L217.3,346.1 L218.8,344.8 L220.3,343.4 L221.8,342.0 L223.3,340.6 L224.8,339.0 L226.3,337.4 L227.8,335.8 L229.3,334.1 L230.8,332.3 L232.3,330.5 L233.8,328.8 L235.3,327.0 L236.8,325.2 L238.3,323.3 L239.8,321.4 L241.3,319.5 L242.8,317.7 L244.3,315.8 L245.8,313.9 L247.3,312.1 L248.8,310.2 L250.3,308.4 L251.8,306.5 L253.3,304.6 L254.8,302.7 L256.3,300.7 L257.8,298.6 L259.3,296.5 L260.8,294.4 L262.3,292.3 L263.8,290.3 L265.3,288.4 L266.8,286.8 L268.3,285.2 L269.8,283.7 L271.3,282.3 L272.8,281.0 L274.3,279.8 L275.8,278.7 L277.3,277.7 L278.8,276.8 L280.3,276.0 L281.8,275.3 L283.3,274.8 L284.8,274.4 L286.3,274.1 L287.8,273.9 L289.3,273.8 L290.8,273.9 L292.3,274.2 L293.8,274.5 L295.3,274.9 L296.8,275.4 L298.3,275.9 L299.8,276.6 L301.3,277.4 L302.8,278.2 L304.3,279.1 L305.8,280.1 L307.3,281.1 L308.8,282.1 L310.3,283.2 L311.8,284.2 L313.3,285.1 L314.8,286.1 L316.3,287.0 L317.8,287.8 L319.3,288.6 L320.8,289.3 L322.3,289.9 L323.8,290.5 L325.3,291.0 L326.8,291.5 L328.3,291.9 L329.8,292.1 L331.3,292.3 L332.8,292.3 L334.3,292.2 L335.8,291.8 L337.3,291.3 L338.8,290.6 L340.3,289.9 L341.8,288.9 L343.3,287.8 L344.8,286.4 L346.3,284.9 L347.8,283.3 L349.3,281.3 L350.8,279.2 L352.3,276.9 L353.8,274.4 L355.3,271.7 L356.8,268.9 L358.3,266.0 L359.8,263.0 L361.3,259.9 L362.8,256.7 L364.3,253.5 L365.8,250.1 L367.3,246.6 L368.8,242.9 L370.3,239.1 L371.8,235.1 L373.3,231.0 L374.8,227.0 L376.3,222.8 L377.8,218.7 L379.3,214.3 L380.8,209.8 L382.3,205.1 L383.8,200.2 L385.3,195.8 L386.8,192.1 L388.3,188.9 L389.8,185.8 L391.3,182.8 L392.8,179.9 L394.3,177.1 L395.8,174.5 L397.3,172.3 L398.8,170.6 L400.3,169.1 L401.8,167.9 L403.3,167.1 L404.8,166.6 L406.3,166.3 L407.8,166.3 L409.3,166.6 L410.8,167.2 L412.3,168.1 L413.8,169.5 L415.3,171.3 L416.8,173.5 L418.3,176.1 L419.8,179.0 L421.3,182.2 L422.8,185.8 L424.3,189.8 L425.8,194.1 L427.3,198.7 L428.8,203.4 L430.3,208.5 L431.8,213.8 L433.3,219.5 L434.8,225.5 L436.3,232.0 L437.8,238.7 L439.3,245.7 L440.8,252.8 L442.3,260.0 L443.8,267.4 L445.3,274.8 L446.8,282.2 L448.3,289.7 L449.8,297.1 L451.3,304.7 L452.8,312.7 L454.3,321.3 L455.8,330.7 L457.3,340.4 L458.8,349.9 L460.3,359.0 L461.8,367.7 L463.3,375.9 L464.8,383.7 L466.3,391.0 L467.8,397.9 L469.3,404.9 L470.8,411.8 L472.3,418.4 L473.8,424.1 L475.3,429.1 L476.8,433.6 L478.3,437.5 L479.8,441.2 L481.3,444.6 L482.8,447.6 L484.3,450.0 L485.8,451.9 L487.3,453.4 L488.8,454.9 L490.3,456.0 L491.8,456.8 L493.3,457.0 L494.8,456.8 L496.3,456.2 L497.8,455.2 L499.3,454.1 L500.8,452.4 L502.3,450.0 L503.8,446.7 L505.3,443.2 L506.8,439.5 L508.3,435.7 L509.8,431.8 L511.3,427.6 L512.8,423.2 L514.3,418.6 L515.8,413.8 L517.3,408.8 L518.8,403.6 L520.3,398.4 L521.8,393.1 L523.3,387.7 L524.8,382.2 L526.3,376.6 L527.8,370.9 L529.3,365.1 L530.8,359.2 L532.3,353.3 L533.8,347.3 L535.3,341.4 L536.8,335.4 L538.3,329.5 L539.8,323.6 L541.3,317.7 L542.8,311.7 L544.3,305.7 L545.8,299.8 L547.3,294.0 L548.8,288.4 L550.3,283.1 L551.8,277.9 L553.3,273.0 L554.8,268.4 L556.3,264.2 L557.8,260.2 L559.3,256.6 L560.8,253.2 L562.3,250.1 L563.8,247.2 L565.3,244.6 L566.8,242.1 L568.3,239.9 L569.8,237.9 L571.3,236.2 L572.8,234.7 L574.3,233.5 L575.8,232.4 L577.3,231.5 L578.8,230.7 L580.3,230.1 L581.8,229.8 L583.3,229.7 L584.8,229.7 L586.3,229.7 L587.8,229.7 L589.3,229.7 L590.8,229.7 L592.3,229.9 L593.8,230.2 L595.3,230.8 L596.8,231.4 L598.3,232.0 L599.8,232.6 L601.3,233.2 L602.8,233.9 L604.3,234.5 L605.8,235.2 L607.3,235.7 L608.8,236.2 L610.3,236.6 L611.8,237.0 L613.3,237.3 L614.8,237.6 L616.3,237.9 L617.8,238.1 L619.3,238.3 L620.8,238.5 L622.3,238.6 L623.8,238.7 L625.3,238.8 L626.8,238.9 L628.3,238.9 L629.8,238.9 L631.3,238.9 L632.8,238.9 L634.3,238.9 L635.8,238.9 L637.3,238.9 L638.8,238.9 L640.3,238.9 L641.8,238.8 L643.3,238.7 L644.8,238.5 L646.3,238.4 L647.8,238.3 L649.3,238.3 L650.8,238.3 L652.3,238.4 L653.8,238.5 L655.3,238.6 L656.8,238.7 L658.3,238.9 L659.8,239.1 L661.3,239.5 L662.8,240.0 L664.3,240.7 L665.8,241.4 L667.3,242.2 L668.8,243.0 L670.3,244.0 L671.8,245.2 L673.3,246.6 L674.8,248.1 L676.3,249.7 L677.8,251.3 L679.3,252.9 L680.8,254.3 L682.3,255.8 L683.8,257.5 L685.3,259.5 L686.8,261.6 L688.3,263.8 L689.8,266.1 L691.3,268.5 L692.8,271.0 L694.3,273.6 L695.8,276.3 L697.3,279.0 L698.8,281.7 L700.3,284.4 L701.8,287.1 L703.3,289.9 L704.8,293.0 L706.3,296.2 L707.8,299.6 L709.3,302.8 L710.8,305.8 L712.3,308.5 L713.8,311.2 L715.3,314.0 L716.8,316.8 L718.3,319.8 L719.8,322.8 L721.3,325.9 L722.8,329.0 L724.3,332.0 L725.8,335.0 L727.3,337.9 L728.8,340.8 L730.3,343.5 L731.8,346.2 L733.3,348.7 L734.8,351.0 L736.3,353.2 L737.8,355.2 L739.3,357.1 L740.8,358.7 L742.3,360.2 L743.8,361.5 L745.3,362.5 L746.8,363.2 L748.3,363.8 L749.8,364.3 L751.3,364.5 L752.8,364.5 L754.3,364.2 L755.8,363.8 L757.3,363.3 L758.8,362.6 L760.3,361.6 L761.8,360.3 L763.3,358.8 L764.8,357.1 L766.3,355.2 L767.8,353.1 L769.3,350.8 L770.8,348.4 L772.3,345.8 L773.8,343.1 L775.3,340.2 L776.8,337.1 L778.3,333.9 L779.8,330.6 L781.3,327.2 L782.8,323.8 L784.3,320.3 L785.8,316.7 L787.3,313.0 L788.8,309.1 L790.3,305.1 L791.8,300.8 L793.3,296.0 L794.8,290.8 L796.3,285.4 L797.8,279.8 L799.3,274.2 L800.8,268.8 L802.3,263.7 L803.8,258.8 L805.3,254.2 L806.8,249.9 L808.3,245.8 L809.8,242.1 L811.3,238.6 L812.8,235.3 L814.3,232.3 L815.8,229.5 L817.3,226.9 L818.8,224.7 L820.3,222.7 L821.8,220.9 L823.3,219.3 L824.8,218.0 L826.3,216.9 L827.8,216.0 L829.3,215.3 L830.8,214.8 L832.3,214.7 L833.8,214.7 L835.3,215.0 L836.8,215.4 L838.3,216.0 L839.8,217.0 L841.3,218.4 L842.8,220.0 L844.3,222.0 L845.8,224.5 L847.3,227.3 L848.8,230.3 L850.3,233.5 L851.8,236.8 L853.3,240.4 L854.8,244.0 L856.3,247.8 L857.8,251.7 L859.3,255.8 L860.8,260.0 L862.3,264.4 L863.8,268.9 L865.3,273.6 L866.8,278.4 L868.3,283.3 L869.8,288.4 L871.3,293.5 L872.8,298.5 L874.3,303.6 L875.8,308.7 L877.3,313.7 L878.8,318.8 L880.3,323.9 L881.8,328.9 L883.3,334.0 L884.8,339.1 L886.3,344.2 L887.8,349.2 L889.3,354.1 L890.8,358.8 L892.3,363.4 L893.8,368.0 L895.3,372.8 L896.8,377.8 L898.3,382.9 L899.8,387.8 L901.3,392.4 L902.8,396.7 L904.3,400.7 L905.8,404.3 L907.3,407.3 L908.8,410.0 L910.3,412.2 L911.8,413.9 L913.3,415.0 L914.8,415.8 L916.3,416.2 L917.8,416.0 L919.3,415.2 L920.8,413.8 L922.3,412.1 L923.8,409.8 L925.3,406.8 L926.8,403.1 L928.3,399.1 L929.8,394.8 L931.3,390.0 L932.8,384.9 L934.3,379.5 L935.8,373.8 L937.3,368.0 L938.8,361.9 L940.3,355.7 L941.8,349.4 L943.3,342.9 L944.8,336.4 L946.3,329.8 L947.8,323.3 L949.3,316.7 L950.8,310.0 L952.3,303.4 L953.8,296.7 L955.3,290.1 L956.8,283.5 L958.3,277.1 L959.8,271.0 L961.3,265.2 L962.8,259.8 L964.3,254.1 L965.8,248.1 L967.3,242.3 L968.8,236.8 L970.3,231.3 L971.8,226.0 L973.3,220.9 L974.8,216.2 L976.3,212.0 L977.8,208.0 L979.3,204.3 L980.8,200.9 L982.3,197.6 L983.8,194.4 L985.3,191.2 L986.8,188.2 L988.3,185.2 L989.8,182.3 L991.3,179.6 L992.8,177.0 L994.3,174.7 L995.8,172.6 L997.3,170.7 L998.8,169.2 L1000.3,167.8 L1001.8,166.8 L1003.3,166.2 L1004.8,165.8 L1006.3,165.6 L1007.8,165.7 L1009.3,166.1 L1010.8,166.6 L1012.3,167.4 L1013.8,168.4 L1015.3,169.7 L1016.8,171.1 L1018.3,172.8 L1019.8,174.7 L1021.3,176.7 L1022.8,178.7 L1024.3,180.8 L1025.8,183.0 L1027.3,185.3 L1028.8,187.6 L1030.3,190.1 L1031.8,192.9 L1033.3,195.8 L1034.8,198.7 L1036.3,201.8 L1037.8,205.0 L1039.3,208.1 L1040.8,211.3 L1042.3,214.3 L1043.8,217.4 L1045.3,220.6 L1046.8,223.8 L1048.3,227.2 L1049.8,230.5 L1051.3,233.9 L1052.8,237.3 L1054.3,240.6 L1055.8,243.9 L1057.3,247.3 L1058.8,250.6 L1060.3,254.0 L1061.8,257.3 L1063.3,260.7 L1064.8,264.0 L1066.3,267.3 L1067.8,270.6 L1069.3,274.0 L1070.8,277.6 L1072.3,281.2 L1073.8,284.8 L1075.3,288.4 L1076.8,291.9 L1078.3,295.3 L1079.8,298.7 L1081.3,301.8 L1082.8,304.8 L1084.3,307.8 L1085.8,310.7 L1087.3,313.6 L1088.8,316.4 L1090.3,319.2 L1091.8,322.0 L1093.3,324.7 L1094.8,327.4 L1096.3,330.3 L1097.8,333.2 L1099.3,336.2 L1100.8,339.2 L1102.3,342.2 L1103.8,345.2 L1105.3,348.1 L1106.8,351.0 L1108.3,354.0 L1109.8,356.9 L1111.3,359.9 L1112.8,362.8 L1114.3,365.6 L1115.8,368.4 L1117.3,371.2 L1118.8,373.9 L1120.3,376.6 L1121.8,379.1 L1123.3,381.6 L1124.8,383.9 L1126.3,386.2 L1127.8,388.4 L1129.3,390.5 L1130.8,392.5 L1132.3,394.2 L1133.8,395.7 L1135.3,397.0 L1136.8,398.3 L1138.3,399.3 L1139.8,400.1 L1141.3,400.5 L1142.8,400.6 L1144.3,400.3 L1145.8,399.9 L1147.3,399.3 L1148.8,398.6 L1150.3,397.7 L1151.8,396.8 L1153.3,395.6 L1154.8,394.0 L1156.3,392.2 L1157.8,390.1 L1159.3,387.8 L1160.8,385.4 L1162.3,383.0 L1163.8,380.3 L1165.3,377.5 L1166.8,374.6 L1168.3,371.5 L1169.8,368.2 L1171.3,364.8 L1172.8,361.2 L1174.3,357.4 L1175.8,353.5 L1177.3,349.7 L1178.8,345.8 L1180.3,341.8 L1181.8,337.8 L1183.3,333.8 L1184.8,329.7 L1186.3,325.7 L1187.8,321.9 L1189.3,318.1 L1190.8,314.4 L1192.3,310.7 L1193.8,307.1 L1195.3,303.6 L1196.8,300.2 L1198.3,296.8 L1199.8,293.4 L1201.3,290.1 L1202.8,287.0 L1204.3,284.0 L1205.8,281.1 L1207.3,278.3 L1208.8,275.5 L1210.3,272.9 L1211.8,270.4 L1213.3,268.3 L1214.8,266.4 L1216.3,264.6 L1217.8,263.1 L1219.3,261.6 L1220.8,260.4 L1222.3,259.4 L1223.8,258.7 L1225.3,258.1 L1226.8,257.7 L1228.3,257.5 L1229.8,257.5 L1231.3,257.8 L1232.8,258.2 L1234.3,258.7 L1235.8,259.3 L1237.3,260.0 L1238.8,260.8 L1240.3,261.8 L1241.8,262.7 L1243.3,263.7 L1244.8,264.6 L1246.3,265.6 L1247.8,266.5 L1249.3,267.4 L1250.8,268.3 L1252.3,269.2 L1253.8,270.1 L1255.3,270.9 L1256.8,271.8 L1258.3,272.6 L1259.8,273.4 L1261.3,274.1 L1262.8,274.5 L1264.3,274.9 L1265.8,275.1 L1267.3,275.2 L1268.8,275.2 L1270.3,274.9 L1271.8,274.5 L1273.3,273.9 L1274.8,273.2 L1276.3,272.4 L1277.8,271.5 L1279.3,270.5 L1280.8,269.3 L1282.3,268.0 L1283.8,266.6 L1285.3,265.0 L1286.8,263.4 L1288.3,261.8 L1289.8,260.0 L1291.3,258.2 L1292.8,256.4 L1294.3,254.4 L1295.8,252.4 L1297.3,250.3 L1298.8,248.1 L1300.3,245.8 L1301.8,243.5 L1303.3,241.3 L1304.8,239.1 L1306.3,237.0 L1307.8,235.0 L1309.3,233.0 L1310.8,231.0 L1312.3,229.0 L1313.8,227.0 L1315.3,225.0 L1316.8,223.2 L1318.3,221.6 L1319.8,220.0 L1321.3,218.6 L1322.8,217.3 L1324.3,216.0 L1325.8,214.9 L1327.3,213.9 L1328.8,213.2 L1330.3,212.6 L1331.8,212.3 L1333.3,212.1 L1334.8,212.2 L1336.3,212.5 L1337.8,213.0 L1339.3,213.6 L1340.8,214.5 L1342.3,215.6 L1343.8,217.0 L1345.3,218.5 L1346.8,220.4 L1348.3,222.4 L1349.8,224.5 L1351.3,226.9 L1352.8,229.5 L1354.3,232.3 L1355.8,235.5 L1357.3,238.9 L1358.8,242.4 L1360.3,246.0 L1361.8,249.6 L1363.3,253.2 L1364.8,256.8 L1366.3,260.4 L1367.8,264.0 L1369.3,267.6 L1370.8,271.2 L1372.3,274.8 L1373.8,278.5 L1375.3,282.1 L1376.8,285.7 L1378.3,289.2 L1379.8,292.4 L1381.3,295.4 L1382.8,297.6" fill="none" stroke="#ff0000" stroke-width="3.8" stroke-linejoin="round" stroke-linecap="butt"/>
<text transform="translate(44.3,1052.9) rotate(-90)" font-size="44" fill="#262626" text-anchor="middle" font-family="'Liberation Serif','Times New Roman',serif"><tspan font-style="italic">θ</tspan> (°C)</text>
<circle cx="405.7" cy="925.7" r="5.0" fill="#ff6969"/>
<circle cx="413.5" cy="923.8" r="5.0" fill="#ffdede"/>
<circle cx="386.3" cy="936.1" r="5.0" fill="#fa0a0a"/>
<circle cx="402.5" cy="938.0" r="5.0" fill="#ffaaaa"/>
<circle cx="407.7" cy="945.1" r="5.0" fill="#ff6969"/>
<circle cx="425.1" cy="950.3" r="5.0" fill="#fa0a0a"/>
<circle cx="329.4" cy="960.0" r="5.0" fill="#ff6969"/>
<circle cx="328.2" cy="954.2" r="5.0" fill="#a5cdff"/>
<circle cx="366.9" cy="959.4" r="5.0" fill="#ff6969"/>
<circle cx="374.7" cy="957.4" r="5.0" fill="#ffaaaa"/>
<circle cx="406.4" cy="955.5" r="5.0" fill="#ff6969"/>
<circle cx="401.2" cy="960.7" r="5.0" fill="#daeaff"/>
<circle cx="357.9" cy="971.6" r="5.0" fill="#ff6969"/>
<circle cx="390.9" cy="968.4" r="5.0" fill="#ff6969"/>
<circle cx="401.2" cy="970.4" r="5.0" fill="#ffaaaa"/>
<circle cx="411.6" cy="970.4" r="5.0" fill="#c80000"/>
<circle cx="429.0" cy="969.7" r="5.0" fill="#c80000"/>
<circle cx="409.0" cy="975.5" r="5.0" fill="#ffaaaa"/>
<circle cx="385.1" cy="978.1" r="5.0" fill="#a5cdff"/>
<circle cx="401.9" cy="978.8" r="5.0" fill="#ff6969"/>
<circle cx="368.9" cy="983.9" r="5.0" fill="#ffdede"/>
<circle cx="386.3" cy="985.2" r="5.0" fill="#c80000"/>
<circle cx="430.3" cy="982.6" r="5.0" fill="#c80000"/>
<circle cx="317.2" cy="989.1" r="5.0" fill="#ff6969"/>
<circle cx="329.4" cy="989.1" r="5.0" fill="#fa0a0a"/>
<circle cx="345.6" cy="988.5" r="5.0" fill="#fa0a0a"/>
<circle cx="339.1" cy="993.6" r="5.0" fill="#fa0a0a"/>
<circle cx="333.3" cy="996.2" r="5.0" fill="#fa0a0a"/>
<circle cx="356.6" cy="994.3" r="5.0" fill="#fa0a0a"/>
<circle cx="402.5" cy="991.0" r="5.0" fill="#fa0a0a"/>
<circle cx="420.0" cy="989.1" r="5.0" fill="#fa0a0a"/>
<circle cx="392.2" cy="993.0" r="5.0" fill="#ff6969"/>
<circle cx="385.1" cy="996.2" r="5.0" fill="#fa0a0a"/>
<circle cx="439.4" cy="991.0" r="5.0" fill="#c80000"/>
<circle cx="257.7" cy="999.4" r="5.0" fill="#55a0ff"/>
<circle cx="278.4" cy="998.2" r="5.0" fill="#ff6969"/>
<circle cx="313.3" cy="999.4" r="5.0" fill="#ff6969"/>
<circle cx="494.7" cy="830.3" r="5.0" fill="#ffaaaa"/>
<circle cx="544.2" cy="831.6" r="5.0" fill="#ffdede"/>
<circle cx="574.1" cy="842.4" r="5.0" fill="#8c0000"/>
<circle cx="508.6" cy="853.2" r="5.0" fill="#ffaaaa"/>
<circle cx="565.2" cy="856.4" r="5.0" fill="#ff6969"/>
<circle cx="562.0" cy="867.2" r="5.0" fill="#ffaaaa"/>
<circle cx="455.3" cy="867.2" r="5.0" fill="#a5cdff"/>
<circle cx="481.9" cy="869.1" r="5.0" fill="#ffaaaa"/>
<circle cx="489.6" cy="874.2" r="5.0" fill="#fa0a0a"/>
<circle cx="522.6" cy="879.3" r="5.0" fill="#fa0a0a"/>
<circle cx="498.5" cy="889.4" r="5.0" fill="#ffaaaa"/>
<circle cx="499.7" cy="899.0" r="5.0" fill="#ffaaaa"/>
<circle cx="483.2" cy="897.7" r="5.0" fill="#ffaaaa"/>
<circle cx="483.9" cy="902.8" r="5.0" fill="#fa0a0a"/>
<circle cx="517.5" cy="900.9" r="5.0" fill="#ff6969"/>
<circle cx="527.7" cy="904.7" r="5.0" fill="#c80000"/>
<circle cx="531.5" cy="904.7" r="5.0" fill="#ff6969"/>
<circle cx="537.2" cy="907.9" r="5.0" fill="#ff6969"/>
<circle cx="548.0" cy="907.9" r="5.0" fill="#ff6969"/>
<circle cx="595.7" cy="904.1" r="5.0" fill="#8c0000"/>
<circle cx="631.3" cy="907.9" r="5.0" fill="#8c0000"/>
<circle cx="458.4" cy="913.6" r="5.0" fill="#fa0a0a"/>
<circle cx="469.2" cy="909.8" r="5.0" fill="#ffaaaa"/>
<circle cx="473.7" cy="913.6" r="5.0" fill="#fa0a0a"/>
<circle cx="567.1" cy="914.9" r="5.0" fill="#ff6969"/>
<circle cx="586.8" cy="916.8" r="5.0" fill="#fa0a0a"/>
<circle cx="536.6" cy="920.6" r="5.0" fill="#c80000"/>
<circle cx="547.4" cy="923.8" r="5.0" fill="#c80000"/>
<circle cx="539.8" cy="925.7" r="5.0" fill="#c80000"/>
<circle cx="563.3" cy="923.8" r="5.0" fill="#8c0000"/>
<circle cx="632.6" cy="927.6" r="5.0" fill="#8c0000"/>
<circle cx="657.4" cy="931.4" r="5.0" fill="#8c0000"/>
<circle cx="481.9" cy="931.4" r="5.0" fill="#ffaaaa"/>
<circle cx="519.4" cy="934.6" r="5.0" fill="#ff6969"/>
<circle cx="527.7" cy="934.6" r="5.0" fill="#ff6969"/>
<circle cx="544.2" cy="934.6" r="5.0" fill="#8c0000"/>
<circle cx="624.9" cy="936.5" r="5.0" fill="#8c0000"/>
<circle cx="494.7" cy="942.2" r="5.0" fill="#fa0a0a"/>
<circle cx="503.6" cy="945.4" r="5.0" fill="#fa0a0a"/>
<circle cx="517.5" cy="945.4" r="5.0" fill="#fa0a0a"/>
<circle cx="527.1" cy="947.3" r="5.0" fill="#ff6969"/>
<circle cx="544.2" cy="947.9" r="5.0" fill="#ff6969"/>
<circle cx="579.2" cy="944.7" r="5.0" fill="#8c0000"/>
<circle cx="588.1" cy="947.9" r="5.0" fill="#fa0a0a"/>
<circle cx="624.3" cy="947.3" r="5.0" fill="#8c0000"/>
<circle cx="563.9" cy="949.8" r="5.0" fill="#ff6969"/>
<circle cx="604.6" cy="954.3" r="5.0" fill="#fa0a0a"/>
<circle cx="495.9" cy="953.6" r="5.0" fill="#8c0000"/>
<circle cx="512.5" cy="955.5" r="5.0" fill="#8c0000"/>
<circle cx="544.2" cy="956.2" r="5.0" fill="#8c0000"/>
<circle cx="558.2" cy="959.4" r="5.0" fill="#8c0000"/>
<circle cx="568.4" cy="958.1" r="5.0" fill="#8c0000"/>
<circle cx="494.7" cy="960.0" r="5.0" fill="#8c0000"/>
<circle cx="516.3" cy="962.5" r="5.0" fill="#c80000"/>
<circle cx="501.6" cy="964.4" r="5.0" fill="#ff6969"/>
<circle cx="545.5" cy="963.2" r="5.0" fill="#ff6969"/>
<circle cx="567.1" cy="963.2" r="5.0" fill="#ff6969"/>
<circle cx="483.9" cy="962.5" r="5.0" fill="#daeaff"/>
<circle cx="466.1" cy="971.4" r="5.0" fill="#fa0a0a"/>
<circle cx="478.1" cy="975.2" r="5.0" fill="#daeaff"/>
<circle cx="498.5" cy="970.2" r="5.0" fill="#ff6969"/>
<circle cx="514.4" cy="971.4" r="5.0" fill="#ff6969"/>
<circle cx="533.4" cy="969.5" r="5.0" fill="#c80000"/>
<circle cx="543.0" cy="970.2" r="5.0" fill="#ff6969"/>
<circle cx="579.2" cy="969.5" r="5.0" fill="#c80000"/>
<circle cx="591.9" cy="970.2" r="5.0" fill="#8c0000"/>
<circle cx="601.4" cy="964.4" r="5.0" fill="#c80000"/>
<circle cx="508.6" cy="975.2" r="5.0" fill="#8c0000"/>
<circle cx="574.1" cy="975.2" r="5.0" fill="#c80000"/>
<circle cx="590.0" cy="976.5" r="5.0" fill="#fa0a0a"/>
<circle cx="520.1" cy="982.2" r="5.0" fill="#ffaaaa"/>
<circle cx="523.9" cy="982.2" r="5.0" fill="#fa0a0a"/>
<circle cx="547.4" cy="980.3" r="5.0" fill="#8c0000"/>
<circle cx="637.7" cy="980.3" r="5.0" fill="#c80000"/>
<circle cx="483.2" cy="984.1" r="5.0" fill="#8c0000"/>
<circle cx="443.2" cy="991.1" r="5.0" fill="#c80000"/>
<circle cx="551.2" cy="989.2" r="5.0" fill="#ff6969"/>
<circle cx="579.2" cy="994.3" r="5.0" fill="#fa0a0a"/>
<circle cx="473.7" cy="994.3" r="5.0" fill="#ffdede"/>
<circle cx="556.3" cy="996.9" r="5.0" fill="#fa0a0a"/>
<circle cx="402.5" cy="995.0" r="5.0" fill="#c80000"/>
<circle cx="294.5" cy="1008.6" r="5.0" fill="#1480fa"/>
<circle cx="308.1" cy="1011.2" r="5.0" fill="#55a0ff"/>
<circle cx="317.2" cy="1007.3" r="5.0" fill="#1480fa"/>
<circle cx="326.2" cy="1008.6" r="5.0" fill="#ff6969"/>
<circle cx="335.3" cy="1008.6" r="5.0" fill="#fa0a0a"/>
<circle cx="361.8" cy="1005.3" r="5.0" fill="#ffaaaa"/>
<circle cx="377.9" cy="1007.9" r="5.0" fill="#daeaff"/>
<circle cx="402.5" cy="1007.9" r="5.0" fill="#ff6969"/>
<circle cx="411.6" cy="1005.3" r="5.0" fill="#daeaff"/>
<circle cx="425.1" cy="1006.6" r="5.0" fill="#8c0000"/>
<circle cx="290.6" cy="1015.0" r="5.0" fill="#fa0a0a"/>
<circle cx="298.4" cy="1019.6" r="5.0" fill="#fa0a0a"/>
<circle cx="304.2" cy="1014.4" r="5.0" fill="#ff6969"/>
<circle cx="315.9" cy="1022.8" r="5.0" fill="#a5cdff"/>
<circle cx="338.5" cy="1024.1" r="5.0" fill="#fa0a0a"/>
<circle cx="370.2" cy="1012.5" r="5.0" fill="#fa0a0a"/>
<circle cx="367.6" cy="1019.6" r="5.0" fill="#ff6969"/>
<circle cx="380.5" cy="1018.9" r="5.0" fill="#fa0a0a"/>
<circle cx="394.7" cy="1015.0" r="5.0" fill="#a5cdff"/>
<circle cx="399.9" cy="1022.2" r="5.0" fill="#a5cdff"/>
<circle cx="429.7" cy="1020.2" r="5.0" fill="#ffdede"/>
<circle cx="361.1" cy="1029.9" r="5.0" fill="#ff6969"/>
<circle cx="306.8" cy="1028.0" r="5.0" fill="#ffaaaa"/>
<circle cx="429.7" cy="1029.9" r="5.0" fill="#ffaaaa"/>
<circle cx="237.0" cy="1036.4" r="5.0" fill="#1480fa"/>
<circle cx="236.3" cy="1042.2" r="5.0" fill="#1480fa"/>
<circle cx="226.6" cy="1042.2" r="5.0" fill="#55a0ff"/>
<circle cx="227.9" cy="1053.8" r="5.0" fill="#1480fa"/>
<circle cx="262.8" cy="1033.8" r="5.0" fill="#fa0a0a"/>
<circle cx="280.3" cy="1040.9" r="5.0" fill="#fa0a0a"/>
<circle cx="289.4" cy="1036.4" r="5.0" fill="#ffaaaa"/>
<circle cx="306.8" cy="1039.0" r="5.0" fill="#ff6969"/>
<circle cx="291.3" cy="1045.4" r="5.0" fill="#ff6969"/>
<circle cx="321.0" cy="1033.8" r="5.0" fill="#1480fa"/>
<circle cx="312.6" cy="1046.1" r="5.0" fill="#55a0ff"/>
<circle cx="324.9" cy="1044.1" r="5.0" fill="#c80000"/>
<circle cx="319.7" cy="1049.3" r="5.0" fill="#ffaaaa"/>
<circle cx="338.5" cy="1039.0" r="5.0" fill="#c80000"/>
<circle cx="352.1" cy="1041.6" r="5.0" fill="#ff6969"/>
<circle cx="355.3" cy="1045.4" r="5.0" fill="#8c0000"/>
<circle cx="366.9" cy="1047.4" r="5.0" fill="#fa0a0a"/>
<circle cx="379.2" cy="1046.1" r="5.0" fill="#fa0a0a"/>
<circle cx="405.1" cy="1031.2" r="5.0" fill="#55a0ff"/>
<circle cx="397.3" cy="1037.0" r="5.0" fill="#55a0ff"/>
<circle cx="401.2" cy="1039.6" r="5.0" fill="#a5cdff"/>
<circle cx="389.6" cy="1038.3" r="5.0" fill="#ffaaaa"/>
<circle cx="409.0" cy="1042.8" r="5.0" fill="#ffaaaa"/>
<circle cx="398.6" cy="1049.3" r="5.0" fill="#ffdede"/>
<circle cx="423.8" cy="1052.5" r="5.0" fill="#ffdede"/>
<circle cx="439.4" cy="1042.8" r="5.0" fill="#ffaaaa"/>
<circle cx="299.1" cy="1052.5" r="5.0" fill="#ffaaaa"/>
<circle cx="305.5" cy="1055.1" r="5.0" fill="#ff6969"/>
<circle cx="282.2" cy="1058.4" r="5.0" fill="#ff6969"/>
<circle cx="287.4" cy="1062.2" r="5.0" fill="#ff6969"/>
<circle cx="313.3" cy="1063.5" r="5.0" fill="#ff6969"/>
<circle cx="328.2" cy="1061.6" r="5.0" fill="#daeaff"/>
<circle cx="337.2" cy="1053.2" r="5.0" fill="#fa0a0a"/>
<circle cx="345.6" cy="1051.9" r="5.0" fill="#ff6969"/>
<circle cx="356.6" cy="1055.1" r="5.0" fill="#8c0000"/>
<circle cx="377.9" cy="1054.5" r="5.0" fill="#fa0a0a"/>
<circle cx="388.3" cy="1060.3" r="5.0" fill="#fa0a0a"/>
<circle cx="395.4" cy="1065.5" r="5.0" fill="#a5cdff"/>
<circle cx="348.2" cy="1062.9" r="5.0" fill="#c80000"/>
<circle cx="350.8" cy="1068.1" r="5.0" fill="#8c0000"/>
<circle cx="358.5" cy="1071.3" r="5.0" fill="#fa0a0a"/>
<circle cx="363.7" cy="1075.2" r="5.0" fill="#fa0a0a"/>
<circle cx="376.0" cy="1067.4" r="5.0" fill="#fa0a0a"/>
<circle cx="283.5" cy="1067.4" r="5.0" fill="#fa0a0a"/>
<circle cx="297.8" cy="1067.4" r="5.0" fill="#fa0a0a"/>
<circle cx="293.9" cy="1075.8" r="5.0" fill="#ff6969"/>
<circle cx="300.3" cy="1076.5" r="5.0" fill="#ff6969"/>
<circle cx="328.2" cy="1074.5" r="5.0" fill="#fa0a0a"/>
<circle cx="321.0" cy="1081.0" r="5.0" fill="#ff6969"/>
<circle cx="331.4" cy="1084.2" r="5.0" fill="#ff6969"/>
<circle cx="372.8" cy="1077.8" r="5.0" fill="#55a0ff"/>
<circle cx="389.6" cy="1082.9" r="5.0" fill="#a5cdff"/>
<circle cx="380.5" cy="1088.8" r="5.0" fill="#a5cdff"/>
<circle cx="401.2" cy="1084.9" r="5.0" fill="#ffaaaa"/>
<circle cx="420.6" cy="1079.7" r="5.0" fill="#ff6969"/>
<circle cx="434.8" cy="1081.0" r="5.0" fill="#ffaaaa"/>
<circle cx="347.5" cy="1088.1" r="5.0" fill="#ffaaaa"/>
<circle cx="429.0" cy="1086.8" r="5.0" fill="#fa0a0a"/>
<circle cx="292.6" cy="1091.3" r="5.0" fill="#ffdede"/>
<circle cx="305.5" cy="1093.3" r="5.0" fill="#ff6969"/>
<circle cx="313.3" cy="1090.7" r="5.0" fill="#ff6969"/>
<circle cx="310.7" cy="1099.1" r="5.0" fill="#ff6969"/>
<circle cx="323.0" cy="1101.0" r="5.0" fill="#ffaaaa"/>
<circle cx="337.2" cy="1095.9" r="5.0" fill="#daeaff"/>
<circle cx="266.7" cy="1097.2" r="5.0" fill="#ffaaaa"/>
<circle cx="250.6" cy="1099.7" r="5.0" fill="#a5cdff"/>
<circle cx="252.5" cy="1104.9" r="5.0" fill="#a5cdff"/>
<circle cx="260.9" cy="1106.2" r="5.0" fill="#ff6969"/>
<circle cx="285.5" cy="1101.7" r="5.0" fill="#fa0a0a"/>
<circle cx="294.5" cy="1104.3" r="5.0" fill="#ff6969"/>
<circle cx="347.5" cy="1104.3" r="5.0" fill="#fa0a0a"/>
<circle cx="359.8" cy="1107.5" r="5.0" fill="#fa0a0a"/>
<circle cx="373.4" cy="1101.7" r="5.0" fill="#55a0ff"/>
<circle cx="383.1" cy="1098.5" r="5.0" fill="#1480fa"/>
<circle cx="392.2" cy="1108.2" r="5.0" fill="#1480fa"/>
<circle cx="395.4" cy="1093.9" r="5.0" fill="#8c0000"/>
<circle cx="423.2" cy="1096.5" r="5.0" fill="#ff6969"/>
<circle cx="429.7" cy="1101.0" r="5.0" fill="#ff6969"/>
<circle cx="439.4" cy="1106.2" r="5.0" fill="#fa0a0a"/>
<circle cx="248.6" cy="1111.4" r="5.0" fill="#ffdede"/>
<circle cx="244.7" cy="1122.4" r="5.0" fill="#ffaaaa"/>
<circle cx="270.0" cy="1114.0" r="5.0" fill="#1480fa"/>
<circle cx="269.3" cy="1120.4" r="5.0" fill="#ff6969"/>
<circle cx="283.5" cy="1119.1" r="5.0" fill="#c80000"/>
<circle cx="292.6" cy="1126.9" r="5.0" fill="#ff6969"/>
<circle cx="299.7" cy="1123.7" r="5.0" fill="#daeaff"/>
<circle cx="305.5" cy="1120.4" r="5.0" fill="#ff6969"/>
<circle cx="326.2" cy="1116.6" r="5.0" fill="#c80000"/>
<circle cx="322.3" cy="1120.4" r="5.0" fill="#ffaaaa"/>
<circle cx="332.7" cy="1122.4" r="5.0" fill="#daeaff"/>
<circle cx="365.0" cy="1117.2" r="5.0" fill="#fa0a0a"/>
<circle cx="390.2" cy="1124.3" r="5.0" fill="#ff6969"/>
<circle cx="407.7" cy="1120.4" r="5.0" fill="#ff6969"/>
<circle cx="419.3" cy="1116.6" r="5.0" fill="#ff6969"/>
<circle cx="423.2" cy="1119.1" r="5.0" fill="#8c0000"/>
<circle cx="243.4" cy="1139.8" r="5.0" fill="#ffdede"/>
<circle cx="277.1" cy="1146.3" r="5.0" fill="#1480fa"/>
<circle cx="289.4" cy="1148.2" r="5.0" fill="#daeaff"/>
<circle cx="341.1" cy="1136.6" r="5.0" fill="#0046c8"/>
<circle cx="346.3" cy="1132.1" r="5.0" fill="#ffdede"/>
<circle cx="353.4" cy="1134.7" r="5.0" fill="#fa0a0a"/>
<circle cx="356.6" cy="1143.7" r="5.0" fill="#00198c"/>
<circle cx="358.5" cy="1148.9" r="5.0" fill="#00198c"/>
<circle cx="379.2" cy="1138.5" r="5.0" fill="#00198c"/>
<circle cx="379.2" cy="1146.3" r="5.0" fill="#0046c8"/>
<circle cx="390.2" cy="1141.8" r="5.0" fill="#c80000"/>
<circle cx="418.7" cy="1148.9" r="5.0" fill="#8c0000"/>
<circle cx="437.4" cy="1143.7" r="5.0" fill="#fa0a0a"/>
<circle cx="324.3" cy="1148.9" r="5.0" fill="#fa0a0a"/>
<circle cx="251.9" cy="1153.4" r="5.0" fill="#55a0ff"/>
<circle cx="249.9" cy="1166.3" r="5.0" fill="#55a0ff"/>
<circle cx="278.4" cy="1161.2" r="5.0" fill="#a5cdff"/>
<circle cx="288.1" cy="1162.5" r="5.0" fill="#0046c8"/>
<circle cx="297.8" cy="1165.1" r="5.0" fill="#c80000"/>
<circle cx="301.6" cy="1159.2" r="5.0" fill="#ff6969"/>
<circle cx="328.8" cy="1159.9" r="5.0" fill="#c80000"/>
<circle cx="290.0" cy="1155.4" r="5.0" fill="#daeaff"/>
<circle cx="401.2" cy="1156.0" r="5.0" fill="#c80000"/>
<circle cx="412.9" cy="1158.6" r="5.0" fill="#fa0a0a"/>
<circle cx="407.7" cy="1160.5" r="5.0" fill="#8c0000"/>
<circle cx="381.2" cy="1165.1" r="5.0" fill="#c80000"/>
<circle cx="390.9" cy="1165.7" r="5.0" fill="#8c0000"/>
<circle cx="395.4" cy="1163.1" r="5.0" fill="#8c0000"/>
<circle cx="409.0" cy="1168.9" r="5.0" fill="#a5cdff"/>
<circle cx="267.4" cy="1170.2" r="5.0" fill="#c80000"/>
<circle cx="296.5" cy="1171.5" r="5.0" fill="#a5cdff"/>
<circle cx="361.8" cy="1164.4" r="5.0" fill="#daeaff"/>
<circle cx="347.5" cy="1169.6" r="5.0" fill="#1480fa"/>
<circle cx="273.2" cy="1178.6" r="5.0" fill="#ffaaaa"/>
<circle cx="284.8" cy="1177.3" r="5.0" fill="#daeaff"/>
<circle cx="292.6" cy="1181.2" r="5.0" fill="#ffaaaa"/>
<circle cx="359.2" cy="1174.1" r="5.0" fill="#a5cdff"/>
<circle cx="364.4" cy="1174.7" r="5.0" fill="#8c0000"/>
<circle cx="349.5" cy="1183.8" r="5.0" fill="#ffaaaa"/>
<circle cx="359.8" cy="1186.4" r="5.0" fill="#ff6969"/>
<circle cx="376.6" cy="1186.4" r="5.0" fill="#8c0000"/>
<circle cx="336.6" cy="1189.0" r="5.0" fill="#1480fa"/>
<circle cx="376.6" cy="1187.7" r="5.0" fill="#55a0ff"/>
<circle cx="442.6" cy="995.0" r="5.0" fill="#c80000"/>
<circle cx="455.5" cy="1000.2" r="5.0" fill="#ffdede"/>
<circle cx="448.4" cy="1008.6" r="5.0" fill="#daeaff"/>
<circle cx="467.8" cy="1008.6" r="5.0" fill="#ff6969"/>
<circle cx="472.3" cy="1006.6" r="5.0" fill="#ff6969"/>
<circle cx="482.0" cy="1001.5" r="5.0" fill="#c80000"/>
<circle cx="489.1" cy="1011.2" r="5.0" fill="#ffaaaa"/>
<circle cx="500.1" cy="1014.4" r="5.0" fill="#c80000"/>
<circle cx="504.7" cy="1016.3" r="5.0" fill="#c80000"/>
<circle cx="509.2" cy="1021.5" r="5.0" fill="#fa0a0a"/>
<circle cx="513.7" cy="1006.0" r="5.0" fill="#8c0000"/>
<circle cx="516.3" cy="1011.2" r="5.0" fill="#c80000"/>
<circle cx="513.1" cy="1028.0" r="5.0" fill="#8c0000"/>
<circle cx="518.2" cy="1033.8" r="5.0" fill="#fa0a0a"/>
<circle cx="527.3" cy="1020.9" r="5.0" fill="#ff6969"/>
<circle cx="533.8" cy="1019.6" r="5.0" fill="#c80000"/>
<circle cx="527.9" cy="1029.3" r="5.0" fill="#c80000"/>
<circle cx="542.2" cy="1012.5" r="5.0" fill="#8c0000"/>
<circle cx="544.1" cy="1024.7" r="5.0" fill="#ff6969"/>
<circle cx="560.3" cy="1011.2" r="5.0" fill="#c80000"/>
<circle cx="559.6" cy="1021.5" r="5.0" fill="#8c0000"/>
<circle cx="558.3" cy="1029.9" r="5.0" fill="#8c0000"/>
<circle cx="579.0" cy="1001.5" r="5.0" fill="#fa0a0a"/>
<circle cx="601.0" cy="1003.4" r="5.0" fill="#ff6969"/>
<circle cx="602.3" cy="1020.9" r="5.0" fill="#fa0a0a"/>
<circle cx="599.1" cy="1024.7" r="5.0" fill="#fa0a0a"/>
<circle cx="615.2" cy="1021.5" r="5.0" fill="#fa0a0a"/>
<circle cx="443.9" cy="1042.8" r="5.0" fill="#ff6969"/>
<circle cx="505.3" cy="1038.3" r="5.0" fill="#8c0000"/>
<circle cx="502.1" cy="1044.8" r="5.0" fill="#ffaaaa"/>
<circle cx="492.4" cy="1044.8" r="5.0" fill="#fa0a0a"/>
<circle cx="521.5" cy="1044.1" r="5.0" fill="#ff6969"/>
<circle cx="526.0" cy="1048.0" r="5.0" fill="#fa0a0a"/>
<circle cx="544.1" cy="1037.0" r="5.0" fill="#8c0000"/>
<circle cx="542.8" cy="1049.3" r="5.0" fill="#ff6969"/>
<circle cx="535.0" cy="1055.1" r="5.0" fill="#c80000"/>
<circle cx="570.6" cy="1040.3" r="5.0" fill="#fa0a0a"/>
<circle cx="581.6" cy="1044.1" r="5.0" fill="#fa0a0a"/>
<circle cx="584.8" cy="1053.8" r="5.0" fill="#ff6969"/>
<circle cx="455.5" cy="1052.5" r="5.0" fill="#c80000"/>
<circle cx="459.4" cy="1061.0" r="5.0" fill="#8c0000"/>
<circle cx="470.4" cy="1061.6" r="5.0" fill="#8c0000"/>
<circle cx="470.4" cy="1071.3" r="5.0" fill="#ffaaaa"/>
<circle cx="513.1" cy="1057.7" r="5.0" fill="#c80000"/>
<circle cx="556.4" cy="1062.2" r="5.0" fill="#ff6969"/>
<circle cx="560.3" cy="1068.1" r="5.0" fill="#ffaaaa"/>
<circle cx="535.0" cy="1068.7" r="5.0" fill="#ff6969"/>
<circle cx="547.3" cy="1069.4" r="5.0" fill="#c80000"/>
<circle cx="524.7" cy="1072.6" r="5.0" fill="#c80000"/>
<circle cx="505.3" cy="1084.9" r="5.0" fill="#8c0000"/>
<circle cx="538.9" cy="1084.2" r="5.0" fill="#fa0a0a"/>
<circle cx="549.9" cy="1084.9" r="5.0" fill="#ff6969"/>
<circle cx="499.5" cy="1093.9" r="5.0" fill="#ff6969"/>
<circle cx="506.0" cy="1092.6" r="5.0" fill="#daeaff"/>
<circle cx="531.8" cy="1097.2" r="5.0" fill="#c80000"/>
<circle cx="465.9" cy="1092.0" r="5.0" fill="#fa0a0a"/>
<circle cx="467.8" cy="1101.0" r="5.0" fill="#8c0000"/>
<circle cx="445.2" cy="1103.0" r="5.0" fill="#c80000"/>
<circle cx="460.7" cy="1109.4" r="5.0" fill="#8c0000"/>
<circle cx="442.6" cy="1107.5" r="5.0" fill="#ff6969"/>
<circle cx="508.5" cy="1102.3" r="5.0" fill="#fa0a0a"/>
<circle cx="508.5" cy="1108.2" r="5.0" fill="#c80000"/>
<circle cx="505.3" cy="1115.3" r="5.0" fill="#fa0a0a"/>
<circle cx="511.1" cy="1119.1" r="5.0" fill="#ff6969"/>
<circle cx="458.1" cy="1118.5" r="5.0" fill="#ffaaaa"/>
<circle cx="445.2" cy="1129.5" r="5.0" fill="#ff6969"/>
<circle cx="452.9" cy="1130.8" r="5.0" fill="#ffdede"/>
<circle cx="501.4" cy="1129.5" r="5.0" fill="#daeaff"/>
<circle cx="511.8" cy="1131.4" r="5.0" fill="#fa0a0a"/>
<circle cx="533.8" cy="1124.3" r="5.0" fill="#fa0a0a"/>
<circle cx="454.2" cy="1147.6" r="5.0" fill="#ff6969"/>
<circle cx="472.3" cy="1101.0" r="5.0" fill="#ffdede"/>
<circle cx="272.8" cy="1186.4" r="5.0" fill="#ffdede"/>
<circle cx="282.4" cy="1181.3" r="5.0" fill="#daeaff"/>
<circle cx="380.9" cy="1195.3" r="5.0" fill="#ff6969"/>
<circle cx="281.7" cy="1200.3" r="5.0" fill="#a5cdff"/>
<circle cx="291.3" cy="1197.2" r="5.0" fill="#ffaaaa"/>
<circle cx="302.7" cy="1202.2" r="5.0" fill="#a5cdff"/>
<circle cx="300.2" cy="1204.8" r="5.0" fill="#ffaaaa"/>
<circle cx="253.8" cy="1207.3" r="5.0" fill="#a5cdff"/>
<circle cx="333.9" cy="1204.8" r="5.0" fill="#ffdede"/>
<circle cx="344.0" cy="1201.6" r="5.0" fill="#ffaaaa"/>
<circle cx="353.6" cy="1201.0" r="5.0" fill="#ff6969"/>
<circle cx="361.2" cy="1200.3" r="5.0" fill="#ffaaaa"/>
<circle cx="368.8" cy="1202.2" r="5.0" fill="#ff6969"/>
<circle cx="334.5" cy="1212.4" r="5.0" fill="#55a0ff"/>
<circle cx="354.2" cy="1210.5" r="5.0" fill="#ffdede"/>
<circle cx="365.0" cy="1219.4" r="5.0" fill="#1480fa"/>
<circle cx="244.9" cy="1225.1" r="5.0" fill="#ffdede"/>
<circle cx="259.5" cy="1221.3" r="5.0" fill="#ffaaaa"/>
<circle cx="287.5" cy="1225.1" r="5.0" fill="#ffaaaa"/>
<circle cx="303.3" cy="1228.3" r="5.0" fill="#55a0ff"/>
<circle cx="310.3" cy="1235.9" r="5.0" fill="#daeaff"/>
<circle cx="324.3" cy="1230.2" r="5.0" fill="#ff6969"/>
<circle cx="337.0" cy="1221.9" r="5.0" fill="#55a0ff"/>
<circle cx="347.8" cy="1221.9" r="5.0" fill="#daeaff"/>
<circle cx="347.8" cy="1227.7" r="5.0" fill="#ffdede"/>
<circle cx="365.0" cy="1228.9" r="5.0" fill="#ff6969"/>
<circle cx="345.9" cy="1235.3" r="5.0" fill="#55a0ff"/>
<circle cx="331.9" cy="1241.0" r="5.0" fill="#1480fa"/>
<circle cx="329.4" cy="1249.3" r="5.0" fill="#ffdede"/>
<circle cx="373.9" cy="1244.8" r="5.0" fill="#ff6969"/>
<circle cx="256.9" cy="1238.5" r="5.0" fill="#1480fa"/>
<circle cx="263.3" cy="1243.6" r="5.0" fill="#55a0ff"/>
<circle cx="272.8" cy="1242.3" r="5.0" fill="#0046c8"/>
<circle cx="262.7" cy="1249.3" r="5.0" fill="#ffaaaa"/>
<circle cx="269.7" cy="1253.7" r="5.0" fill="#a5cdff"/>
<circle cx="243.0" cy="1253.7" r="5.0" fill="#1480fa"/>
<circle cx="250.0" cy="1258.8" r="5.0" fill="#0046c8"/>
<circle cx="259.5" cy="1263.9" r="5.0" fill="#a5cdff"/>
<circle cx="250.6" cy="1271.5" r="5.0" fill="#0046c8"/>
<circle cx="256.9" cy="1277.9" r="5.0" fill="#0046c8"/>
<circle cx="253.8" cy="1284.9" r="5.0" fill="#0046c8"/>
<circle cx="260.8" cy="1285.5" r="5.0" fill="#0046c8"/>
<circle cx="253.8" cy="1292.5" r="5.0" fill="#a5cdff"/>
<circle cx="243.6" cy="1299.5" r="5.0" fill="#a5cdff"/>
<circle cx="236.0" cy="1310.3" r="5.0" fill="#a5cdff"/>
<circle cx="265.8" cy="1308.4" r="5.0" fill="#a5cdff"/>
<circle cx="244.9" cy="1323.6" r="5.0" fill="#a5cdff"/>
<circle cx="312.9" cy="1254.4" r="5.0" fill="#0046c8"/>
<circle cx="319.2" cy="1260.7" r="5.0" fill="#0046c8"/>
<circle cx="303.3" cy="1263.9" r="5.0" fill="#55a0ff"/>
<circle cx="296.4" cy="1272.8" r="5.0" fill="#55a0ff"/>
<circle cx="317.3" cy="1271.5" r="5.0" fill="#55a0ff"/>
<circle cx="329.4" cy="1277.9" r="5.0" fill="#55a0ff"/>
<circle cx="288.7" cy="1288.7" r="5.0" fill="#daeaff"/>
<circle cx="296.4" cy="1287.4" r="5.0" fill="#a5cdff"/>
<circle cx="305.3" cy="1287.4" r="5.0" fill="#a5cdff"/>
<line x1="126.6" y1="721.6" x2="663.9" y2="721.6" stroke="#646464" stroke-width="1.8"/>
<line x1="126.6" y1="1384.8" x2="663.9" y2="1384.8" stroke="#5e5e5e" stroke-width="1.8"/>
<line x1="127.5" y1="721.6" x2="127.5" y2="1384.8" stroke="#8e8e8e" stroke-width="1.8"/>
<line x1="663.0" y1="721.6" x2="663.0" y2="1384.8" stroke="#8e8e8e" stroke-width="1.8"/>
<text x="126.0" y="1437.5" font-size="42" fill="#262626" text-anchor="middle" font-family="'Liberation Serif','Times New Roman',serif">34.1</text>
<line x1="306.0" y1="1384.8" x2="306.0" y2="1377.3" stroke="#5a5a5a" stroke-width="1.5"/>
<line x1="306.0" y1="721.6" x2="306.0" y2="729.1" stroke="#5a5a5a" stroke-width="1.5"/>
<text x="304.5" y="1437.5" font-size="42" fill="#262626" text-anchor="middle" font-family="'Liberation Serif','Times New Roman',serif">34.2</text>
<line x1="484.5" y1="1384.8" x2="484.5" y2="1377.3" stroke="#5a5a5a" stroke-width="1.5"/>
<line x1="484.5" y1="721.6" x2="484.5" y2="729.1" stroke="#5a5a5a" stroke-width="1.5"/>
<text x="483.0" y="1437.5" font-size="42" fill="#262626" text-anchor="middle" font-family="'Liberation Serif','Times New Roman',serif">34.3</text>
<text x="661.5" y="1437.5" font-size="42" fill="#262626" text-anchor="middle" font-family="'Liberation Serif','Times New Roman',serif">34.4</text>
<text x="114.0" y="1399.3" font-size="42" fill="#262626" text-anchor="end" font-family="'Liberation Serif','Times New Roman',serif">6.5</text>
<line x1="127.5" y1="1274.3" x2="134.0" y2="1274.3" stroke="#4a4a4a" stroke-width="1.6"/>
<line x1="663.0" y1="1274.3" x2="656.5" y2="1274.3" stroke="#4a4a4a" stroke-width="1.6"/>
<text x="114.0" y="1288.8" font-size="42" fill="#262626" text-anchor="end" font-family="'Liberation Serif','Times New Roman',serif">7</text>
<line x1="127.5" y1="1163.7" x2="134.0" y2="1163.7" stroke="#4a4a4a" stroke-width="1.6"/>
<line x1="663.0" y1="1163.7" x2="656.5" y2="1163.7" stroke="#4a4a4a" stroke-width="1.6"/>
<text x="114.0" y="1178.2" font-size="42" fill="#262626" text-anchor="end" font-family="'Liberation Serif','Times New Roman',serif">7.5</text>
<line x1="127.5" y1="1053.2" x2="134.0" y2="1053.2" stroke="#4a4a4a" stroke-width="1.6"/>
<line x1="663.0" y1="1053.2" x2="656.5" y2="1053.2" stroke="#4a4a4a" stroke-width="1.6"/>
<text x="114.0" y="1067.7" font-size="42" fill="#262626" text-anchor="end" font-family="'Liberation Serif','Times New Roman',serif">8</text>
<line x1="127.5" y1="942.7" x2="134.0" y2="942.7" stroke="#4a4a4a" stroke-width="1.6"/>
<line x1="663.0" y1="942.7" x2="656.5" y2="942.7" stroke="#4a4a4a" stroke-width="1.6"/>
<text x="114.0" y="957.2" font-size="42" fill="#262626" text-anchor="end" font-family="'Liberation Serif','Times New Roman',serif">8.5</text>
<line x1="127.5" y1="832.1" x2="134.0" y2="832.1" stroke="#4a4a4a" stroke-width="1.6"/>
<line x1="663.0" y1="832.1" x2="656.5" y2="832.1" stroke="#4a4a4a" stroke-width="1.6"/>
<text x="114.0" y="846.6" font-size="42" fill="#262626" text-anchor="end" font-family="'Liberation Serif','Times New Roman',serif">9</text>
<text x="114.0" y="736.1" font-size="42" fill="#262626" text-anchor="end" font-family="'Liberation Serif','Times New Roman',serif">9.5</text>
<text x="394.8" y="1491.5" font-size="46" fill="#262626" text-anchor="middle" font-family="'Liberation Serif','Times New Roman',serif">Salinity (psu)</text>
<text x="181.5" y="702.2" font-size="46" fill="#000" text-anchor="middle" font-family="'Liberation Serif','Times New Roman',serif">(b)</text>
<rect x="722.9" y="1374.44" width="47.5" height="10.96" fill="#000478"/>
<rect x="722.9" y="1364.08" width="47.5" height="10.96" fill="#000c81"/>
<rect x="722.9" y="1353.71" width="47.5" height="10.96" fill="#00158b"/>
<rect x="722.9" y="1343.35" width="47.5" height="10.96" fill="#001d94"/>
<rect x="722.9" y="1332.99" width="47.5" height="10.96" fill="#00259e"/>
<rect x="722.9" y="1322.62" width="47.5" height="10.96" fill="#002ea7"/>
<rect x="722.9" y="1312.26" width="47.5" height="10.96" fill="#0036b1"/>
<rect x="722.9" y="1301.90" width="47.5" height="10.96" fill="#003eba"/>
<rect x="722.9" y="1291.54" width="47.5" height="10.96" fill="#0046c4"/>
<rect x="722.9" y="1281.17" width="47.5" height="10.96" fill="#004fcd"/>
<rect x="722.9" y="1270.81" width="47.5" height="10.96" fill="#0057d7"/>
<rect x="722.9" y="1260.45" width="47.5" height="10.96" fill="#005fe0"/>
<rect x="722.9" y="1250.09" width="47.5" height="10.96" fill="#0068e9"/>
<rect x="722.9" y="1239.72" width="47.5" height="10.96" fill="#046fef"/>
<rect x="722.9" y="1229.36" width="47.5" height="10.96" fill="#0876f3"/>
<rect x="722.9" y="1219.00" width="47.5" height="10.96" fill="#0d7df8"/>
<rect x="722.9" y="1208.64" width="47.5" height="10.96" fill="#1284fd"/>
<rect x="722.9" y="1198.28" width="47.5" height="10.96" fill="#1d8cff"/>
<rect x="722.9" y="1187.91" width="47.5" height="10.96" fill="#2f95ff"/>
<rect x="722.9" y="1177.55" width="47.5" height="10.96" fill="#419eff"/>
<rect x="722.9" y="1167.19" width="47.5" height="10.96" fill="#53a7ff"/>
<rect x="722.9" y="1156.83" width="47.5" height="10.96" fill="#65b1ff"/>
<rect x="722.9" y="1146.46" width="47.5" height="10.96" fill="#77baff"/>
<rect x="722.9" y="1136.10" width="47.5" height="10.96" fill="#89c3ff"/>
<rect x="722.9" y="1125.74" width="47.5" height="10.96" fill="#9cccff"/>
<rect x="722.9" y="1115.38" width="47.5" height="10.96" fill="#aed5ff"/>
<rect x="722.9" y="1105.01" width="47.5" height="10.96" fill="#c0dfff"/>
<rect x="722.9" y="1094.65" width="47.5" height="10.96" fill="#d2e8ff"/>
<rect x="722.9" y="1084.29" width="47.5" height="10.96" fill="#e4f1ff"/>
<rect x="722.9" y="1073.92" width="47.5" height="10.96" fill="#f6faff"/>
<rect x="722.9" y="1063.56" width="47.5" height="10.96" fill="#fff8f8"/>
<rect x="722.9" y="1053.20" width="47.5" height="10.96" fill="#ffe9e9"/>
<rect x="722.9" y="1042.84" width="47.5" height="10.96" fill="#ffdada"/>
<rect x="722.9" y="1032.47" width="47.5" height="10.96" fill="#ffcccc"/>
<rect x="722.9" y="1022.11" width="47.5" height="10.96" fill="#ffbdbd"/>
<rect x="722.9" y="1011.75" width="47.5" height="10.96" fill="#ffaeae"/>
<rect x="722.9" y="1001.39" width="47.5" height="10.96" fill="#ffa0a0"/>
<rect x="722.9" y="991.02" width="47.5" height="10.96" fill="#ff9191"/>
<rect x="722.9" y="980.66" width="47.5" height="10.96" fill="#ff8282"/>
<rect x="722.9" y="970.30" width="47.5" height="10.96" fill="#ff7373"/>
<rect x="722.9" y="959.94" width="47.5" height="10.96" fill="#ff6565"/>
<rect x="722.9" y="949.58" width="47.5" height="10.96" fill="#ff5656"/>
<rect x="722.9" y="939.21" width="47.5" height="10.96" fill="#ff4747"/>
<rect x="722.9" y="928.85" width="47.5" height="10.96" fill="#ff3939"/>
<rect x="722.9" y="918.49" width="47.5" height="10.96" fill="#ff2a2a"/>
<rect x="722.9" y="908.12" width="47.5" height="10.96" fill="#ff1b1b"/>
<rect x="722.9" y="897.76" width="47.5" height="10.96" fill="#ff0c0c"/>
<rect x="722.9" y="887.40" width="47.5" height="10.96" fill="#fe0000"/>
<rect x="722.9" y="877.04" width="47.5" height="10.96" fill="#f50000"/>
<rect x="722.9" y="866.67" width="47.5" height="10.96" fill="#ed0000"/>
<rect x="722.9" y="856.31" width="47.5" height="10.96" fill="#e50000"/>
<rect x="722.9" y="845.95" width="47.5" height="10.96" fill="#dc0000"/>
<rect x="722.9" y="835.59" width="47.5" height="10.96" fill="#d40000"/>
<rect x="722.9" y="825.23" width="47.5" height="10.96" fill="#cb0000"/>
<rect x="722.9" y="814.86" width="47.5" height="10.96" fill="#c30000"/>
<rect x="722.9" y="804.50" width="47.5" height="10.96" fill="#ba0000"/>
<rect x="722.9" y="794.14" width="47.5" height="10.96" fill="#b20000"/>
<rect x="722.9" y="783.77" width="47.5" height="10.96" fill="#aa0000"/>
<rect x="722.9" y="773.41" width="47.5" height="10.96" fill="#a10000"/>
<rect x="722.9" y="763.05" width="47.5" height="10.96" fill="#990000"/>
<rect x="722.9" y="752.69" width="47.5" height="10.96" fill="#900000"/>
<rect x="722.9" y="742.33" width="47.5" height="10.96" fill="#880000"/>
<rect x="722.9" y="731.96" width="47.5" height="10.96" fill="#800000"/>
<rect x="722.9" y="721.60" width="47.5" height="10.96" fill="#770000"/>
<rect x="722.9" y="721.6" width="47.5" height="663.2" fill="none" stroke="#707070" stroke-width="1.5"/>
<line x1="770.4" y1="804.3" x2="764.0" y2="804.3" stroke="#404040" stroke-width="1.6"/>
<text x="781.4" y="818.3" font-size="38.5" fill="#262626" text-anchor="start" font-family="'Liberation Serif','Times New Roman',serif">0.15</text>
<line x1="770.4" y1="894.1" x2="764.0" y2="894.1" stroke="#404040" stroke-width="1.6"/>
<text x="781.4" y="908.1" font-size="38.5" fill="#262626" text-anchor="start" font-family="'Liberation Serif','Times New Roman',serif">0.1</text>
<line x1="770.4" y1="984.0" x2="764.0" y2="984.0" stroke="#404040" stroke-width="1.6"/>
<text x="781.4" y="998.0" font-size="38.5" fill="#262626" text-anchor="start" font-family="'Liberation Serif','Times New Roman',serif">0.05</text>
<line x1="770.4" y1="1073.9" x2="764.0" y2="1073.9" stroke="#404040" stroke-width="1.6"/>
<text x="781.4" y="1087.9" font-size="38.5" fill="#262626" text-anchor="start" font-family="'Liberation Serif','Times New Roman',serif">0</text>
<line x1="770.4" y1="1163.7" x2="764.0" y2="1163.7" stroke="#404040" stroke-width="1.6"/>
<text x="781.4" y="1177.7" font-size="38.5" fill="#262626" text-anchor="start" font-family="'Liberation Serif','Times New Roman',serif">-0.05</text>
<line x1="770.4" y1="1253.6" x2="764.0" y2="1253.6" stroke="#404040" stroke-width="1.6"/>
<text x="781.4" y="1267.6" font-size="38.5" fill="#262626" text-anchor="start" font-family="'Liberation Serif','Times New Roman',serif">-0.1</text>
<line x1="770.4" y1="1343.5" x2="764.0" y2="1343.5" stroke="#404040" stroke-width="1.6"/>
<text x="781.4" y="1357.5" font-size="38.5" fill="#262626" text-anchor="start" font-family="'Liberation Serif','Times New Roman',serif">-0.15</text>
<text x="746.6" y="698.9" font-size="40" fill="#000" text-anchor="middle" font-family="'Liberation Serif','Times New Roman',serif">SLA (m)</text>
<circle cx="1255.8" cy="925.7" r="5.0" fill="#ff6969"/>
<circle cx="1263.4" cy="923.8" r="5.0" fill="#a5cdff"/>
<circle cx="1236.7" cy="936.5" r="5.0" fill="#ffaaaa"/>
<circle cx="1252.6" cy="938.4" r="5.0" fill="#ff6969"/>
<circle cx="1257.7" cy="945.4" r="5.0" fill="#fa0a0a"/>
<circle cx="1276.1" cy="950.5" r="5.0" fill="#fa0a0a"/>
<circle cx="1256.4" cy="955.5" r="5.0" fill="#ff6969"/>
<circle cx="1250.7" cy="961.3" r="5.0" fill="#a5cdff"/>
<circle cx="1217.6" cy="959.4" r="5.0" fill="#ff6969"/>
<circle cx="1225.2" cy="957.5" r="5.0" fill="#ffdede"/>
<circle cx="1180.1" cy="960.6" r="5.0" fill="#ffdede"/>
<circle cx="1208.1" cy="972.1" r="5.0" fill="#ffaaaa"/>
<circle cx="1241.8" cy="967.0" r="5.0" fill="#fa0a0a"/>
<circle cx="1262.7" cy="970.2" r="5.0" fill="#c80000"/>
<circle cx="1279.3" cy="970.2" r="5.0" fill="#c80000"/>
<circle cx="1251.9" cy="970.2" r="5.0" fill="#daeaff"/>
<circle cx="1234.8" cy="978.4" r="5.0" fill="#daeaff"/>
<circle cx="1259.6" cy="975.2" r="5.0" fill="#daeaff"/>
<circle cx="1251.9" cy="979.7" r="5.0" fill="#c80000"/>
<circle cx="1218.9" cy="984.1" r="5.0" fill="#daeaff"/>
<circle cx="1236.1" cy="986.1" r="5.0" fill="#8c0000"/>
<circle cx="1280.5" cy="982.2" r="5.0" fill="#c80000"/>
<circle cx="1180.1" cy="989.2" r="5.0" fill="#ff6969"/>
<circle cx="1190.9" cy="994.9" r="5.0" fill="#ff6969"/>
<circle cx="1206.8" cy="994.3" r="5.0" fill="#ffdede"/>
<circle cx="1241.8" cy="993.0" r="5.0" fill="#fa0a0a"/>
<circle cx="1252.6" cy="991.1" r="5.0" fill="#8c0000"/>
<circle cx="1270.4" cy="989.2" r="5.0" fill="#c80000"/>
<circle cx="1234.1" cy="996.2" r="5.0" fill="#ff6969"/>
<circle cx="1128.6" cy="996.9" r="5.0" fill="#fa0a0a"/>
<circle cx="1107.7" cy="998.8" r="5.0" fill="#daeaff"/>
<circle cx="1164.2" cy="998.8" r="5.0" fill="#ffaaaa"/>
<circle cx="1183.3" cy="996.9" r="5.0" fill="#daeaff"/>
<circle cx="1344.8" cy="830.1" r="5.0" fill="#a5cdff"/>
<circle cx="1362.3" cy="826.2" r="5.0" fill="#ff6969"/>
<circle cx="1394.1" cy="832.1" r="5.0" fill="#ffaaaa"/>
<circle cx="1424.0" cy="842.5" r="5.0" fill="#8c0000"/>
<circle cx="1358.4" cy="853.5" r="5.0" fill="#daeaff"/>
<circle cx="1415.6" cy="856.8" r="5.0" fill="#ffaaaa"/>
<circle cx="1411.7" cy="867.2" r="5.0" fill="#ffdede"/>
<circle cx="1305.8" cy="867.2" r="5.0" fill="#ff6969"/>
<circle cx="1331.8" cy="868.5" r="5.0" fill="#ffaaaa"/>
<circle cx="1338.9" cy="874.3" r="5.0" fill="#daeaff"/>
<circle cx="1372.7" cy="879.5" r="5.0" fill="#fa0a0a"/>
<circle cx="1348.0" cy="889.9" r="5.0" fill="#ffaaaa"/>
<circle cx="1333.7" cy="899.0" r="5.0" fill="#ff6969"/>
<circle cx="1334.4" cy="903.6" r="5.0" fill="#ff6969"/>
<circle cx="1350.0" cy="899.7" r="5.0" fill="#ff6969"/>
<circle cx="1367.5" cy="901.0" r="5.0" fill="#fa0a0a"/>
<circle cx="1377.3" cy="904.2" r="5.0" fill="#c80000"/>
<circle cx="1379.9" cy="904.2" r="5.0" fill="#ffaaaa"/>
<circle cx="1387.7" cy="907.5" r="5.0" fill="#ffaaaa"/>
<circle cx="1398.0" cy="907.5" r="5.0" fill="#ffaaaa"/>
<circle cx="1445.5" cy="904.2" r="5.0" fill="#c80000"/>
<circle cx="1480.6" cy="907.5" r="5.0" fill="#ffdede"/>
<circle cx="1307.1" cy="913.3" r="5.0" fill="#daeaff"/>
<circle cx="1319.4" cy="909.4" r="5.0" fill="#ffaaaa"/>
<circle cx="1322.7" cy="913.3" r="5.0" fill="#ffdede"/>
<circle cx="1436.4" cy="916.5" r="5.0" fill="#ff6969"/>
<circle cx="1386.4" cy="919.8" r="5.0" fill="#fa0a0a"/>
<circle cx="1389.6" cy="923.0" r="5.0" fill="#ff6969"/>
<circle cx="1398.0" cy="923.7" r="5.0" fill="#fa0a0a"/>
<circle cx="1413.6" cy="923.7" r="5.0" fill="#ffaaaa"/>
<circle cx="1332.4" cy="930.8" r="5.0" fill="#a5cdff"/>
<circle cx="1378.6" cy="934.1" r="5.0" fill="#ffdede"/>
<circle cx="1394.1" cy="934.7" r="5.0" fill="#8c0000"/>
<circle cx="1483.2" cy="927.6" r="5.0" fill="#ffaaaa"/>
<circle cx="1475.4" cy="936.0" r="5.0" fill="#ff6969"/>
<circle cx="1507.2" cy="930.8" r="5.0" fill="#ff6969"/>
<circle cx="1344.1" cy="941.2" r="5.0" fill="#ffdede"/>
<circle cx="1353.9" cy="945.1" r="5.0" fill="#ff6969"/>
<circle cx="1367.5" cy="945.1" r="5.0" fill="#ff6969"/>
<circle cx="1376.6" cy="947.1" r="5.0" fill="#ffaaaa"/>
<circle cx="1394.1" cy="947.7" r="5.0" fill="#ffaaaa"/>
<circle cx="1429.2" cy="945.1" r="5.0" fill="#ff6969"/>
<circle cx="1438.3" cy="947.1" r="5.0" fill="#ffdede"/>
<circle cx="1439.6" cy="949.0" r="5.0" fill="#daeaff"/>
<circle cx="1413.6" cy="949.7" r="5.0" fill="#ffaaaa"/>
<circle cx="1346.7" cy="954.2" r="5.0" fill="#ff6969"/>
<circle cx="1362.3" cy="955.5" r="5.0" fill="#8c0000"/>
<circle cx="1344.1" cy="960.7" r="5.0" fill="#c80000"/>
<circle cx="1394.1" cy="955.5" r="5.0" fill="#ff6969"/>
<circle cx="1407.8" cy="959.4" r="5.0" fill="#fa0a0a"/>
<circle cx="1418.8" cy="957.5" r="5.0" fill="#ff6969"/>
<circle cx="1391.5" cy="961.4" r="5.0" fill="#c80000"/>
<circle cx="1396.7" cy="963.3" r="5.0" fill="#ffdede"/>
<circle cx="1417.5" cy="963.3" r="5.0" fill="#daeaff"/>
<circle cx="1333.1" cy="962.0" r="5.0" fill="#daeaff"/>
<circle cx="1366.2" cy="962.0" r="5.0" fill="#ff6969"/>
<circle cx="1454.6" cy="954.2" r="5.0" fill="#ff6969"/>
<circle cx="1450.7" cy="964.6" r="5.0" fill="#ffaaaa"/>
<circle cx="1316.2" cy="971.8" r="5.0" fill="#ff6969"/>
<circle cx="1348.0" cy="970.5" r="5.0" fill="#ffaaaa"/>
<circle cx="1359.1" cy="975.0" r="5.0" fill="#c80000"/>
<circle cx="1364.3" cy="971.1" r="5.0" fill="#ffdede"/>
<circle cx="1383.1" cy="969.8" r="5.0" fill="#ffaaaa"/>
<circle cx="1429.2" cy="969.8" r="5.0" fill="#8c0000"/>
<circle cx="1424.0" cy="975.0" r="5.0" fill="#c80000"/>
<circle cx="1442.2" cy="970.5" r="5.0" fill="#fa0a0a"/>
<circle cx="1440.3" cy="977.0" r="5.0" fill="#fa0a0a"/>
<circle cx="1398.0" cy="980.2" r="5.0" fill="#c80000"/>
<circle cx="1369.5" cy="982.2" r="5.0" fill="#ffaaaa"/>
<circle cx="1374.7" cy="982.8" r="5.0" fill="#ffaaaa"/>
<circle cx="1333.7" cy="984.1" r="5.0" fill="#fa0a0a"/>
<circle cx="1291.5" cy="991.3" r="5.0" fill="#8c0000"/>
<circle cx="1401.9" cy="989.3" r="5.0" fill="#ffaaaa"/>
<circle cx="1406.5" cy="997.1" r="5.0" fill="#fa0a0a"/>
<circle cx="1322.7" cy="994.5" r="5.0" fill="#daeaff"/>
<circle cx="1332.4" cy="999.1" r="5.0" fill="#ff6969"/>
<circle cx="1305.8" cy="998.4" r="5.0" fill="#daeaff"/>
<circle cx="1285.6" cy="982.8" r="5.0" fill="#c80000"/>
<circle cx="1167.3" cy="1006.6" r="5.0" fill="#ffaaaa"/>
<circle cx="1144.7" cy="1008.6" r="5.0" fill="#ffdede"/>
<circle cx="1158.3" cy="1010.5" r="5.0" fill="#daeaff"/>
<circle cx="1153.1" cy="1011.2" r="5.0" fill="#daeaff"/>
<circle cx="1185.4" cy="1008.6" r="5.0" fill="#fa0a0a"/>
<circle cx="1211.9" cy="1005.3" r="5.0" fill="#ffdede"/>
<circle cx="1228.1" cy="1007.9" r="5.0" fill="#daeaff"/>
<circle cx="1220.4" cy="1011.8" r="5.0" fill="#c80000"/>
<circle cx="1252.7" cy="995.0" r="5.0" fill="#8c0000"/>
<circle cx="1252.7" cy="1007.9" r="5.0" fill="#ff6969"/>
<circle cx="1261.7" cy="1004.7" r="5.0" fill="#daeaff"/>
<circle cx="1275.3" cy="1007.3" r="5.0" fill="#fa0a0a"/>
<circle cx="1250.1" cy="1013.1" r="5.0" fill="#daeaff"/>
<circle cx="1148.6" cy="1019.6" r="5.0" fill="#fa0a0a"/>
<circle cx="1158.9" cy="1016.3" r="5.0" fill="#ff6969"/>
<circle cx="1166.0" cy="1018.3" r="5.0" fill="#ffaaaa"/>
<circle cx="1166.0" cy="1023.4" r="5.0" fill="#daeaff"/>
<circle cx="1157.0" cy="1028.0" r="5.0" fill="#ffaaaa"/>
<circle cx="1188.7" cy="1024.7" r="5.0" fill="#ff6969"/>
<circle cx="1217.1" cy="1019.6" r="5.0" fill="#fa0a0a"/>
<circle cx="1224.2" cy="1014.4" r="5.0" fill="#c80000"/>
<circle cx="1231.3" cy="1019.6" r="5.0" fill="#c80000"/>
<circle cx="1211.9" cy="1029.9" r="5.0" fill="#ff6969"/>
<circle cx="1251.4" cy="1020.9" r="5.0" fill="#daeaff"/>
<circle cx="1279.8" cy="1020.9" r="5.0" fill="#daeaff"/>
<circle cx="1279.2" cy="1029.9" r="5.0" fill="#a5cdff"/>
<circle cx="1255.3" cy="1031.2" r="5.0" fill="#a5cdff"/>
<circle cx="1087.8" cy="1036.4" r="5.0" fill="#ffaaaa"/>
<circle cx="1112.4" cy="1033.8" r="5.0" fill="#a5cdff"/>
<circle cx="1171.2" cy="1033.1" r="5.0" fill="#ffdede"/>
<circle cx="1076.8" cy="1042.2" r="5.0" fill="#ffaaaa"/>
<circle cx="1085.9" cy="1043.5" r="5.0" fill="#daeaff"/>
<circle cx="1079.4" cy="1053.2" r="5.0" fill="#ffaaaa"/>
<circle cx="1075.5" cy="1057.1" r="5.0" fill="#ffaaaa"/>
<circle cx="1130.5" cy="1040.3" r="5.0" fill="#ff6969"/>
<circle cx="1139.5" cy="1036.4" r="5.0" fill="#fa0a0a"/>
<circle cx="1140.8" cy="1046.1" r="5.0" fill="#c80000"/>
<circle cx="1157.0" cy="1038.3" r="5.0" fill="#fa0a0a"/>
<circle cx="1150.5" cy="1053.2" r="5.0" fill="#8c0000"/>
<circle cx="1155.7" cy="1054.5" r="5.0" fill="#8c0000"/>
<circle cx="1162.8" cy="1046.1" r="5.0" fill="#ff6969"/>
<circle cx="1168.0" cy="1049.3" r="5.0" fill="#ff6969"/>
<circle cx="1174.4" cy="1044.1" r="5.0" fill="#ff6969"/>
<circle cx="1188.7" cy="1039.0" r="5.0" fill="#fa0a0a"/>
<circle cx="1203.5" cy="1041.6" r="5.0" fill="#ffaaaa"/>
<circle cx="1206.8" cy="1055.1" r="5.0" fill="#ff6969"/>
<circle cx="1217.1" cy="1047.4" r="5.0" fill="#fa0a0a"/>
<circle cx="1187.4" cy="1053.2" r="5.0" fill="#fa0a0a"/>
<circle cx="1194.5" cy="1055.8" r="5.0" fill="#fa0a0a"/>
<circle cx="1228.1" cy="1054.5" r="5.0" fill="#fa0a0a"/>
<circle cx="1233.9" cy="1054.5" r="5.0" fill="#fa0a0a"/>
<circle cx="1238.5" cy="1060.3" r="5.0" fill="#c80000"/>
<circle cx="1238.5" cy="1039.0" r="5.0" fill="#a5cdff"/>
<circle cx="1243.6" cy="1044.1" r="5.0" fill="#a5cdff"/>
<circle cx="1250.7" cy="1039.0" r="5.0" fill="#ff6969"/>
<circle cx="1259.8" cy="1042.8" r="5.0" fill="#55a0ff"/>
<circle cx="1248.8" cy="1049.3" r="5.0" fill="#a5cdff"/>
<circle cx="1229.4" cy="1045.4" r="5.0" fill="#daeaff"/>
<circle cx="1273.4" cy="1053.2" r="5.0" fill="#a5cdff"/>
<circle cx="1199.7" cy="1051.9" r="5.0" fill="#daeaff"/>
<circle cx="1244.9" cy="1065.5" r="5.0" fill="#daeaff"/>
<circle cx="1133.7" cy="1064.8" r="5.0" fill="#ff6969"/>
<circle cx="1138.9" cy="1067.4" r="5.0" fill="#fa0a0a"/>
<circle cx="1149.2" cy="1067.4" r="5.0" fill="#fa0a0a"/>
<circle cx="1144.7" cy="1075.8" r="5.0" fill="#ff6969"/>
<circle cx="1150.5" cy="1076.5" r="5.0" fill="#fa0a0a"/>
<circle cx="1164.1" cy="1062.2" r="5.0" fill="#ffdede"/>
<circle cx="1177.7" cy="1062.2" r="5.0" fill="#ffdede"/>
<circle cx="1168.6" cy="1071.3" r="5.0" fill="#ffdede"/>
<circle cx="1171.2" cy="1079.1" r="5.0" fill="#ffdede"/>
<circle cx="1178.3" cy="1074.5" r="5.0" fill="#c80000"/>
<circle cx="1198.4" cy="1066.1" r="5.0" fill="#fa0a0a"/>
<circle cx="1203.5" cy="1070.0" r="5.0" fill="#c80000"/>
<circle cx="1208.7" cy="1071.3" r="5.0" fill="#c80000"/>
<circle cx="1213.9" cy="1075.2" r="5.0" fill="#ff6969"/>
<circle cx="1226.2" cy="1068.1" r="5.0" fill="#fa0a0a"/>
<circle cx="1222.9" cy="1078.4" r="5.0" fill="#daeaff"/>
<circle cx="1239.7" cy="1082.9" r="5.0" fill="#ffaaaa"/>
<circle cx="1233.3" cy="1088.1" r="5.0" fill="#ffaaaa"/>
<circle cx="1250.7" cy="1084.9" r="5.0" fill="#55a0ff"/>
<circle cx="1270.1" cy="1079.1" r="5.0" fill="#daeaff"/>
<circle cx="1283.1" cy="1081.0" r="5.0" fill="#55a0ff"/>
<circle cx="1279.8" cy="1087.5" r="5.0" fill="#daeaff"/>
<circle cx="1182.2" cy="1085.5" r="5.0" fill="#fa0a0a"/>
<circle cx="1142.8" cy="1092.0" r="5.0" fill="#ff6969"/>
<circle cx="1155.0" cy="1093.3" r="5.0" fill="#a5cdff"/>
<circle cx="1164.1" cy="1090.7" r="5.0" fill="#fa0a0a"/>
<circle cx="1160.2" cy="1099.7" r="5.0" fill="#daeaff"/>
<circle cx="1172.5" cy="1101.0" r="5.0" fill="#a5cdff"/>
<circle cx="1187.4" cy="1095.9" r="5.0" fill="#a5cdff"/>
<circle cx="1197.7" cy="1088.8" r="5.0" fill="#ff6969"/>
<circle cx="1197.7" cy="1104.9" r="5.0" fill="#fa0a0a"/>
<circle cx="1116.3" cy="1097.2" r="5.0" fill="#fa0a0a"/>
<circle cx="1101.4" cy="1102.3" r="5.0" fill="#a5cdff"/>
<circle cx="1111.1" cy="1106.2" r="5.0" fill="#fa0a0a"/>
<circle cx="1098.8" cy="1112.0" r="5.0" fill="#ff6969"/>
<circle cx="1135.0" cy="1102.3" r="5.0" fill="#fa0a0a"/>
<circle cx="1222.3" cy="1101.0" r="5.0" fill="#daeaff"/>
<circle cx="1233.9" cy="1098.5" r="5.0" fill="#a5cdff"/>
<circle cx="1235.9" cy="1103.6" r="5.0" fill="#a5cdff"/>
<circle cx="1244.9" cy="1093.9" r="5.0" fill="#8c0000"/>
<circle cx="1241.7" cy="1108.2" r="5.0" fill="#ffdede"/>
<circle cx="1273.4" cy="1095.9" r="5.0" fill="#55a0ff"/>
<circle cx="1279.2" cy="1101.7" r="5.0" fill="#ff6969"/>
<circle cx="1094.9" cy="1122.4" r="5.0" fill="#ffaaaa"/>
<circle cx="1120.1" cy="1115.3" r="5.0" fill="#55a0ff"/>
<circle cx="1120.1" cy="1120.4" r="5.0" fill="#fa0a0a"/>
<circle cx="1133.7" cy="1118.5" r="5.0" fill="#c80000"/>
<circle cx="1142.8" cy="1125.6" r="5.0" fill="#ff6969"/>
<circle cx="1149.2" cy="1124.3" r="5.0" fill="#a5cdff"/>
<circle cx="1155.7" cy="1120.4" r="5.0" fill="#ff6969"/>
<circle cx="1172.5" cy="1120.4" r="5.0" fill="#a5cdff"/>
<circle cx="1176.4" cy="1117.2" r="5.0" fill="#ffaaaa"/>
<circle cx="1181.6" cy="1122.4" r="5.0" fill="#55a0ff"/>
<circle cx="1215.8" cy="1117.2" r="5.0" fill="#8c0000"/>
<circle cx="1239.7" cy="1124.3" r="5.0" fill="#fa0a0a"/>
<circle cx="1257.2" cy="1120.4" r="5.0" fill="#fa0a0a"/>
<circle cx="1268.8" cy="1117.2" r="5.0" fill="#a5cdff"/>
<circle cx="1274.0" cy="1119.1" r="5.0" fill="#fa0a0a"/>
<circle cx="1125.3" cy="1134.7" r="5.0" fill="#ffdede"/>
<circle cx="1195.8" cy="1133.4" r="5.0" fill="#a5cdff"/>
<circle cx="1191.9" cy="1136.6" r="5.0" fill="#55a0ff"/>
<circle cx="1203.5" cy="1134.0" r="5.0" fill="#daeaff"/>
<circle cx="1093.0" cy="1140.5" r="5.0" fill="#ffaaaa"/>
<circle cx="1126.6" cy="1146.3" r="5.0" fill="#55a0ff"/>
<circle cx="1102.7" cy="1153.4" r="5.0" fill="#daeaff"/>
<circle cx="1206.1" cy="1143.7" r="5.0" fill="#55a0ff"/>
<circle cx="1208.7" cy="1149.5" r="5.0" fill="#55a0ff"/>
<circle cx="1229.4" cy="1138.5" r="5.0" fill="#55a0ff"/>
<circle cx="1229.4" cy="1146.9" r="5.0" fill="#55a0ff"/>
<circle cx="1239.7" cy="1141.8" r="5.0" fill="#fa0a0a"/>
<circle cx="1268.2" cy="1148.2" r="5.0" fill="#fa0a0a"/>
<circle cx="1177.7" cy="1159.2" r="5.0" fill="#8c0000"/>
<circle cx="1129.8" cy="1161.2" r="5.0" fill="#55a0ff"/>
<circle cx="1137.6" cy="1162.5" r="5.0" fill="#55a0ff"/>
<circle cx="1148.6" cy="1165.7" r="5.0" fill="#8c0000"/>
<circle cx="1211.9" cy="1163.8" r="5.0" fill="#a5cdff"/>
<circle cx="1230.7" cy="1164.4" r="5.0" fill="#c80000"/>
<circle cx="1239.7" cy="1166.3" r="5.0" fill="#c80000"/>
<circle cx="1246.2" cy="1163.1" r="5.0" fill="#c80000"/>
<circle cx="1251.4" cy="1156.0" r="5.0" fill="#fa0a0a"/>
<circle cx="1257.9" cy="1160.5" r="5.0" fill="#8c0000"/>
<circle cx="1263.7" cy="1156.6" r="5.0" fill="#ffaaaa"/>
<circle cx="1100.1" cy="1166.3" r="5.0" fill="#a5cdff"/>
<circle cx="1118.2" cy="1170.2" r="5.0" fill="#fa0a0a"/>
<circle cx="1200.3" cy="1170.2" r="5.0" fill="#a5cdff"/>
<circle cx="1208.7" cy="1173.5" r="5.0" fill="#a5cdff"/>
<circle cx="1213.9" cy="1174.7" r="5.0" fill="#ff6969"/>
<circle cx="1259.8" cy="1168.3" r="5.0" fill="#ffaaaa"/>
<circle cx="1123.4" cy="1178.6" r="5.0" fill="#daeaff"/>
<circle cx="1135.0" cy="1177.3" r="5.0" fill="#daeaff"/>
<circle cx="1142.8" cy="1181.2" r="5.0" fill="#daeaff"/>
<circle cx="1122.1" cy="1186.4" r="5.0" fill="#a5cdff"/>
<circle cx="1187.4" cy="1189.0" r="5.0" fill="#55a0ff"/>
<circle cx="1210.0" cy="1187.7" r="5.0" fill="#daeaff"/>
<circle cx="1226.8" cy="1186.4" r="5.0" fill="#1480fa"/>
<circle cx="1228.1" cy="1185.1" r="5.0" fill="#ff6969"/>
<circle cx="1291.5" cy="995.0" r="5.0" fill="#8c0000"/>
<circle cx="1317.5" cy="1009.3" r="5.0" fill="#daeaff"/>
<circle cx="1323.3" cy="1006.0" r="5.0" fill="#fa0a0a"/>
<circle cx="1338.9" cy="1010.6" r="5.0" fill="#ff6969"/>
<circle cx="1348.7" cy="1013.8" r="5.0" fill="#ff6969"/>
<circle cx="1353.2" cy="1015.8" r="5.0" fill="#8c0000"/>
<circle cx="1359.1" cy="1021.0" r="5.0" fill="#fa0a0a"/>
<circle cx="1363.0" cy="1026.2" r="5.0" fill="#fa0a0a"/>
<circle cx="1362.3" cy="1030.1" r="5.0" fill="#c80000"/>
<circle cx="1368.2" cy="1034.0" r="5.0" fill="#ffdede"/>
<circle cx="1364.3" cy="1005.4" r="5.0" fill="#fa0a0a"/>
<circle cx="1365.6" cy="1010.6" r="5.0" fill="#daeaff"/>
<circle cx="1376.6" cy="1021.0" r="5.0" fill="#daeaff"/>
<circle cx="1383.8" cy="1019.0" r="5.0" fill="#ffdede"/>
<circle cx="1378.6" cy="1028.8" r="5.0" fill="#ffaaaa"/>
<circle cx="1392.2" cy="1012.5" r="5.0" fill="#fa0a0a"/>
<circle cx="1410.4" cy="1010.6" r="5.0" fill="#c80000"/>
<circle cx="1410.4" cy="1021.0" r="5.0" fill="#daeaff"/>
<circle cx="1408.4" cy="1028.8" r="5.0" fill="#ffaaaa"/>
<circle cx="1429.9" cy="1002.1" r="5.0" fill="#a5cdff"/>
<circle cx="1450.7" cy="1003.4" r="5.0" fill="#ffaaaa"/>
<circle cx="1451.3" cy="1021.6" r="5.0" fill="#fa0a0a"/>
<circle cx="1465.0" cy="1021.0" r="5.0" fill="#ffaaaa"/>
<circle cx="1293.4" cy="1042.4" r="5.0" fill="#ffaaaa"/>
<circle cx="1342.2" cy="1044.4" r="5.0" fill="#ffdede"/>
<circle cx="1355.2" cy="1038.5" r="5.0" fill="#fa0a0a"/>
<circle cx="1371.4" cy="1044.4" r="5.0" fill="#fa0a0a"/>
<circle cx="1376.6" cy="1048.3" r="5.0" fill="#ffdede"/>
<circle cx="1394.1" cy="1037.2" r="5.0" fill="#c80000"/>
<circle cx="1392.8" cy="1049.6" r="5.0" fill="#daeaff"/>
<circle cx="1420.8" cy="1039.8" r="5.0" fill="#daeaff"/>
<circle cx="1431.8" cy="1044.4" r="5.0" fill="#8c0000"/>
<circle cx="1435.1" cy="1053.5" r="5.0" fill="#ffdede"/>
<circle cx="1305.8" cy="1052.2" r="5.0" fill="#fa0a0a"/>
<circle cx="1309.0" cy="1060.6" r="5.0" fill="#fa0a0a"/>
<circle cx="1320.1" cy="1061.9" r="5.0" fill="#c80000"/>
<circle cx="1320.1" cy="1071.7" r="5.0" fill="#daeaff"/>
<circle cx="1363.0" cy="1057.4" r="5.0" fill="#ffdede"/>
<circle cx="1385.1" cy="1055.4" r="5.0" fill="#ff6969"/>
<circle cx="1374.7" cy="1073.0" r="5.0" fill="#ffaaaa"/>
<circle cx="1385.7" cy="1068.4" r="5.0" fill="#daeaff"/>
<circle cx="1398.0" cy="1069.1" r="5.0" fill="#fa0a0a"/>
<circle cx="1406.5" cy="1062.6" r="5.0" fill="#ffaaaa"/>
<circle cx="1410.4" cy="1067.8" r="5.0" fill="#ff6969"/>
<circle cx="1314.2" cy="1086.0" r="5.0" fill="#daeaff"/>
<circle cx="1316.2" cy="1091.2" r="5.0" fill="#ffdede"/>
<circle cx="1345.4" cy="1084.7" r="5.0" fill="#ffdede"/>
<circle cx="1355.2" cy="1084.7" r="5.0" fill="#ff6969"/>
<circle cx="1351.3" cy="1093.8" r="5.0" fill="#daeaff"/>
<circle cx="1389.0" cy="1086.0" r="5.0" fill="#ffaaaa"/>
<circle cx="1399.3" cy="1084.7" r="5.0" fill="#ff6969"/>
<circle cx="1381.8" cy="1097.0" r="5.0" fill="#ffdede"/>
<circle cx="1294.7" cy="1102.8" r="5.0" fill="#c80000"/>
<circle cx="1292.8" cy="1108.0" r="5.0" fill="#ff6969"/>
<circle cx="1318.1" cy="1100.9" r="5.0" fill="#ff6969"/>
<circle cx="1311.0" cy="1110.0" r="5.0" fill="#c80000"/>
<circle cx="1359.1" cy="1102.8" r="5.0" fill="#ff6969"/>
<circle cx="1359.1" cy="1108.7" r="5.0" fill="#c80000"/>
<circle cx="1354.5" cy="1115.2" r="5.0" fill="#ffdede"/>
<circle cx="1361.7" cy="1119.1" r="5.0" fill="#ff6969"/>
<circle cx="1307.7" cy="1119.1" r="5.0" fill="#daeaff"/>
<circle cx="1295.4" cy="1129.5" r="5.0" fill="#daeaff"/>
<circle cx="1302.5" cy="1131.4" r="5.0" fill="#daeaff"/>
<circle cx="1351.9" cy="1129.5" r="5.0" fill="#a5cdff"/>
<circle cx="1362.3" cy="1131.4" r="5.0" fill="#ffaaaa"/>
<circle cx="1383.1" cy="1124.3" r="5.0" fill="#fa0a0a"/>
<circle cx="1288.2" cy="1143.8" r="5.0" fill="#daeaff"/>
<circle cx="1303.8" cy="1147.0" r="5.0" fill="#ff6969"/>
<circle cx="1311.0" cy="1175.6" r="5.0" fill="#a5cdff"/>
<circle cx="1132.5" cy="1180.6" r="5.0" fill="#daeaff"/>
<circle cx="1126.7" cy="1191.4" r="5.0" fill="#a5cdff"/>
<circle cx="1141.4" cy="1197.2" r="5.0" fill="#a5cdff"/>
<circle cx="1131.8" cy="1201.0" r="5.0" fill="#daeaff"/>
<circle cx="1154.1" cy="1202.2" r="5.0" fill="#daeaff"/>
<circle cx="1150.9" cy="1204.2" r="5.0" fill="#a5cdff"/>
<circle cx="1103.9" cy="1207.3" r="5.0" fill="#1480fa"/>
<circle cx="1109.6" cy="1221.3" r="5.0" fill="#55a0ff"/>
<circle cx="1095.0" cy="1225.1" r="5.0" fill="#daeaff"/>
<circle cx="1137.5" cy="1225.1" r="5.0" fill="#55a0ff"/>
<circle cx="1153.4" cy="1228.3" r="5.0" fill="#a5cdff"/>
<circle cx="1160.4" cy="1235.9" r="5.0" fill="#daeaff"/>
<circle cx="1187.1" cy="1191.4" r="5.0" fill="#a5cdff"/>
<circle cx="1231.6" cy="1194.6" r="5.0" fill="#ff6969"/>
<circle cx="1194.7" cy="1201.6" r="5.0" fill="#daeaff"/>
<circle cx="1203.6" cy="1201.6" r="5.0" fill="#a5cdff"/>
<circle cx="1212.5" cy="1200.3" r="5.0" fill="#daeaff"/>
<circle cx="1218.9" cy="1202.2" r="5.0" fill="#daeaff"/>
<circle cx="1183.9" cy="1205.4" r="5.0" fill="#daeaff"/>
<circle cx="1204.9" cy="1209.9" r="5.0" fill="#daeaff"/>
<circle cx="1184.6" cy="1212.4" r="5.0" fill="#1480fa"/>
<circle cx="1229.7" cy="1212.4" r="5.0" fill="#daeaff"/>
<circle cx="1187.1" cy="1221.3" r="5.0" fill="#55a0ff"/>
<circle cx="1197.9" cy="1221.9" r="5.0" fill="#daeaff"/>
<circle cx="1197.9" cy="1227.7" r="5.0" fill="#55a0ff"/>
<circle cx="1215.7" cy="1219.4" r="5.0" fill="#1480fa"/>
<circle cx="1215.7" cy="1228.9" r="5.0" fill="#ffdede"/>
<circle cx="1196.0" cy="1235.9" r="5.0" fill="#daeaff"/>
<circle cx="1174.4" cy="1230.2" r="5.0" fill="#fa0a0a"/>
<circle cx="1181.4" cy="1241.0" r="5.0" fill="#1480fa"/>
<circle cx="1180.1" cy="1248.6" r="5.0" fill="#55a0ff"/>
<circle cx="1107.7" cy="1238.5" r="5.0" fill="#00198c"/>
<circle cx="1112.8" cy="1243.6" r="5.0" fill="#0046c8"/>
<circle cx="1112.8" cy="1249.3" r="5.0" fill="#55a0ff"/>
<circle cx="1123.6" cy="1242.9" r="5.0" fill="#55a0ff"/>
<circle cx="1093.0" cy="1253.1" r="5.0" fill="#0046c8"/>
<circle cx="1100.7" cy="1258.8" r="5.0" fill="#1480fa"/>
<circle cx="1109.6" cy="1263.9" r="5.0" fill="#daeaff"/>
<circle cx="1224.0" cy="1244.8" r="5.0" fill="#ff6969"/>
<circle cx="1163.0" cy="1254.4" r="5.0" fill="#55a0ff"/>
<circle cx="1169.3" cy="1260.1" r="5.0" fill="#55a0ff"/>
<circle cx="1153.4" cy="1263.9" r="5.0" fill="#a5cdff"/>
<circle cx="1147.7" cy="1272.8" r="5.0" fill="#55a0ff"/>
<circle cx="1167.4" cy="1271.5" r="5.0" fill="#a5cdff"/>
<circle cx="1180.1" cy="1277.9" r="5.0" fill="#daeaff"/>
<circle cx="1100.0" cy="1271.5" r="5.0" fill="#55a0ff"/>
<circle cx="1107.7" cy="1277.9" r="5.0" fill="#a5cdff"/>
<circle cx="1104.5" cy="1284.2" r="5.0" fill="#a5cdff"/>
<circle cx="1111.5" cy="1285.5" r="5.0" fill="#55a0ff"/>
<circle cx="1103.9" cy="1292.5" r="5.0" fill="#daeaff"/>
<circle cx="1138.8" cy="1288.7" r="5.0" fill="#a5cdff"/>
<circle cx="1146.4" cy="1287.4" r="5.0" fill="#a5cdff"/>
<circle cx="1155.3" cy="1286.8" r="5.0" fill="#a5cdff"/>
<circle cx="1093.7" cy="1299.5" r="5.0" fill="#a5cdff"/>
<circle cx="1086.1" cy="1310.3" r="5.0" fill="#daeaff"/>
<circle cx="1115.9" cy="1308.4" r="5.0" fill="#daeaff"/>
<circle cx="1095.0" cy="1324.3" r="5.0" fill="#a5cdff"/>
<line x1="976.2" y1="721.6" x2="1513.5" y2="721.6" stroke="#646464" stroke-width="1.8"/>
<line x1="976.2" y1="1384.8" x2="1513.5" y2="1384.8" stroke="#5e5e5e" stroke-width="1.8"/>
<line x1="977.1" y1="721.6" x2="977.1" y2="1384.8" stroke="#8e8e8e" stroke-width="1.8"/>
<line x1="1512.6" y1="721.6" x2="1512.6" y2="1384.8" stroke="#8e8e8e" stroke-width="1.8"/>
<text x="975.6" y="1437.5" font-size="42" fill="#262626" text-anchor="middle" font-family="'Liberation Serif','Times New Roman',serif">34.1</text>
<line x1="1155.6" y1="1384.8" x2="1155.6" y2="1377.3" stroke="#5a5a5a" stroke-width="1.5"/>
<line x1="1155.6" y1="721.6" x2="1155.6" y2="729.1" stroke="#5a5a5a" stroke-width="1.5"/>
<text x="1154.1" y="1437.5" font-size="42" fill="#262626" text-anchor="middle" font-family="'Liberation Serif','Times New Roman',serif">34.2</text>
<line x1="1334.1" y1="1384.8" x2="1334.1" y2="1377.3" stroke="#5a5a5a" stroke-width="1.5"/>
<line x1="1334.1" y1="721.6" x2="1334.1" y2="729.1" stroke="#5a5a5a" stroke-width="1.5"/>
<text x="1332.6" y="1437.5" font-size="42" fill="#262626" text-anchor="middle" font-family="'Liberation Serif','Times New Roman',serif">34.3</text>
<text x="1511.1" y="1437.5" font-size="42" fill="#262626" text-anchor="middle" font-family="'Liberation Serif','Times New Roman',serif">34.4</text>
<text x="963.6" y="1399.3" font-size="42" fill="#262626" text-anchor="end" font-family="'Liberation Serif','Times New Roman',serif">6.5</text>
<line x1="977.1" y1="1274.3" x2="983.6" y2="1274.3" stroke="#4a4a4a" stroke-width="1.6"/>
<line x1="1512.6" y1="1274.3" x2="1506.1" y2="1274.3" stroke="#4a4a4a" stroke-width="1.6"/>
<text x="963.6" y="1288.8" font-size="42" fill="#262626" text-anchor="end" font-family="'Liberation Serif','Times New Roman',serif">7</text>
<line x1="977.1" y1="1163.7" x2="983.6" y2="1163.7" stroke="#4a4a4a" stroke-width="1.6"/>
<line x1="1512.6" y1="1163.7" x2="1506.1" y2="1163.7" stroke="#4a4a4a" stroke-width="1.6"/>
<text x="963.6" y="1178.2" font-size="42" fill="#262626" text-anchor="end" font-family="'Liberation Serif','Times New Roman',serif">7.5</text>
<line x1="977.1" y1="1053.2" x2="983.6" y2="1053.2" stroke="#4a4a4a" stroke-width="1.6"/>
<line x1="1512.6" y1="1053.2" x2="1506.1" y2="1053.2" stroke="#4a4a4a" stroke-width="1.6"/>
<text x="963.6" y="1067.7" font-size="42" fill="#262626" text-anchor="end" font-family="'Liberation Serif','Times New Roman',serif">8</text>
<line x1="977.1" y1="942.7" x2="983.6" y2="942.7" stroke="#4a4a4a" stroke-width="1.6"/>
<line x1="1512.6" y1="942.7" x2="1506.1" y2="942.7" stroke="#4a4a4a" stroke-width="1.6"/>
<text x="963.6" y="957.2" font-size="42" fill="#262626" text-anchor="end" font-family="'Liberation Serif','Times New Roman',serif">8.5</text>
<line x1="977.1" y1="832.1" x2="983.6" y2="832.1" stroke="#4a4a4a" stroke-width="1.6"/>
<line x1="1512.6" y1="832.1" x2="1506.1" y2="832.1" stroke="#4a4a4a" stroke-width="1.6"/>
<text x="963.6" y="846.6" font-size="42" fill="#262626" text-anchor="end" font-family="'Liberation Serif','Times New Roman',serif">9</text>
<text x="963.6" y="736.1" font-size="42" fill="#262626" text-anchor="end" font-family="'Liberation Serif','Times New Roman',serif">9.5</text>
<text x="1245.2" y="1487.6" font-size="43" fill="#262626" text-anchor="middle" font-family="'Liberation Serif','Times New Roman',serif">Salinity (psu)</text>
<text x="1054.5" y="702.2" font-size="46" fill="#000" text-anchor="middle" font-family="'Liberation Serif','Times New Roman',serif">(c)</text>
<rect x="1572.8" y="1374.44" width="47.5" height="10.96" fill="#00087d"/>
<rect x="1572.8" y="1364.08" width="47.5" height="10.96" fill="#001892"/>
<rect x="1572.8" y="1353.71" width="47.5" height="10.96" fill="#0029a6"/>
<rect x="1572.8" y="1343.35" width="47.5" height="10.96" fill="#0039ba"/>
<rect x="1572.8" y="1332.99" width="47.5" height="10.96" fill="#0049cf"/>
<rect x="1572.8" y="1322.62" width="47.5" height="10.96" fill="#055ade"/>
<rect x="1572.8" y="1312.26" width="47.5" height="10.96" fill="#0c6bea"/>
<rect x="1572.8" y="1301.90" width="47.5" height="10.96" fill="#147cf7"/>
<rect x="1572.8" y="1291.54" width="47.5" height="10.96" fill="#1b88ff"/>
<rect x="1572.8" y="1281.17" width="47.5" height="10.96" fill="#228cff"/>
<rect x="1572.8" y="1270.81" width="47.5" height="10.96" fill="#288fff"/>
<rect x="1572.8" y="1260.45" width="47.5" height="10.96" fill="#2f92ff"/>
<rect x="1572.8" y="1250.09" width="47.5" height="10.96" fill="#3596ff"/>
<rect x="1572.8" y="1239.72" width="47.5" height="10.96" fill="#3c99ff"/>
<rect x="1572.8" y="1229.36" width="47.5" height="10.96" fill="#439dff"/>
<rect x="1572.8" y="1219.00" width="47.5" height="10.96" fill="#49a0ff"/>
<rect x="1572.8" y="1208.64" width="47.5" height="10.96" fill="#50a4ff"/>
<rect x="1572.8" y="1198.28" width="47.5" height="10.96" fill="#56a7ff"/>
<rect x="1572.8" y="1187.91" width="47.5" height="10.96" fill="#5daaff"/>
<rect x="1572.8" y="1177.55" width="47.5" height="10.96" fill="#64aeff"/>
<rect x="1572.8" y="1167.19" width="47.5" height="10.96" fill="#6ab1ff"/>
<rect x="1572.8" y="1156.83" width="47.5" height="10.96" fill="#71b5ff"/>
<rect x="1572.8" y="1146.46" width="47.5" height="10.96" fill="#77b8ff"/>
<rect x="1572.8" y="1136.10" width="47.5" height="10.96" fill="#7ebcff"/>
<rect x="1572.8" y="1125.74" width="47.5" height="10.96" fill="#84bfff"/>
<rect x="1572.8" y="1115.38" width="47.5" height="10.96" fill="#8bc3ff"/>
<rect x="1572.8" y="1105.01" width="47.5" height="10.96" fill="#92c6ff"/>
<rect x="1572.8" y="1094.65" width="47.5" height="10.96" fill="#98c9ff"/>
<rect x="1572.8" y="1084.29" width="47.5" height="10.96" fill="#9fcdff"/>
<rect x="1572.8" y="1073.92" width="47.5" height="10.96" fill="#a5d0ff"/>
<rect x="1572.8" y="1063.56" width="47.5" height="10.96" fill="#acd4ff"/>
<rect x="1572.8" y="1053.20" width="47.5" height="10.96" fill="#b3d7ff"/>
<rect x="1572.8" y="1042.84" width="47.5" height="10.96" fill="#b9dbff"/>
<rect x="1572.8" y="1032.47" width="47.5" height="10.96" fill="#c0deff"/>
<rect x="1572.8" y="1022.11" width="47.5" height="10.96" fill="#c6e1ff"/>
<rect x="1572.8" y="1011.75" width="47.5" height="10.96" fill="#cde5ff"/>
<rect x="1572.8" y="1001.39" width="47.5" height="10.96" fill="#d4e8ff"/>
<rect x="1572.8" y="991.02" width="47.5" height="10.96" fill="#daecff"/>
<rect x="1572.8" y="980.66" width="47.5" height="10.96" fill="#e1efff"/>
<rect x="1572.8" y="970.30" width="47.5" height="10.96" fill="#e7f3ff"/>
<rect x="1572.8" y="959.94" width="47.5" height="10.96" fill="#eef6ff"/>
<rect x="1572.8" y="949.58" width="47.5" height="10.96" fill="#f4f9ff"/>
<rect x="1572.8" y="939.21" width="47.5" height="10.96" fill="#fbfdff"/>
<rect x="1572.8" y="928.85" width="47.5" height="10.96" fill="#fff7f7"/>
<rect x="1572.8" y="918.49" width="47.5" height="10.96" fill="#ffe3e3"/>
<rect x="1572.8" y="908.12" width="47.5" height="10.96" fill="#ffcece"/>
<rect x="1572.8" y="897.76" width="47.5" height="10.96" fill="#ffbaba"/>
<rect x="1572.8" y="887.40" width="47.5" height="10.96" fill="#ffa6a6"/>
<rect x="1572.8" y="877.04" width="47.5" height="10.96" fill="#ff9191"/>
<rect x="1572.8" y="866.67" width="47.5" height="10.96" fill="#ff7d7d"/>
<rect x="1572.8" y="856.31" width="47.5" height="10.96" fill="#ff6969"/>
<rect x="1572.8" y="845.95" width="47.5" height="10.96" fill="#ff5454"/>
<rect x="1572.8" y="835.59" width="47.5" height="10.96" fill="#ff4040"/>
<rect x="1572.8" y="825.23" width="47.5" height="10.96" fill="#ff2c2c"/>
<rect x="1572.8" y="814.86" width="47.5" height="10.96" fill="#ff1717"/>
<rect x="1572.8" y="804.50" width="47.5" height="10.96" fill="#ff0303"/>
<rect x="1572.8" y="794.14" width="47.5" height="10.96" fill="#f10000"/>
<rect x="1572.8" y="783.77" width="47.5" height="10.96" fill="#e00000"/>
<rect x="1572.8" y="773.41" width="47.5" height="10.96" fill="#cf0000"/>
<rect x="1572.8" y="763.05" width="47.5" height="10.96" fill="#be0000"/>
<rect x="1572.8" y="752.69" width="47.5" height="10.96" fill="#ae0000"/>
<rect x="1572.8" y="742.33" width="47.5" height="10.96" fill="#9d0000"/>
<rect x="1572.8" y="731.96" width="47.5" height="10.96" fill="#8c0000"/>
<rect x="1572.8" y="721.60" width="47.5" height="10.96" fill="#7b0000"/>
<rect x="1572.8" y="721.6" width="47.5" height="663.2" fill="none" stroke="#707070" stroke-width="1.5"/>
<line x1="1620.3" y1="762.9" x2="1613.9" y2="762.9" stroke="#404040" stroke-width="1.6"/>
<text x="1631.3" y="776.9" font-size="38.5" fill="#262626" text-anchor="start" font-family="'Liberation Serif','Times New Roman',serif">0.8</text>
<line x1="1620.3" y1="876.0" x2="1613.9" y2="876.0" stroke="#404040" stroke-width="1.6"/>
<text x="1631.3" y="890.0" font-size="38.5" fill="#262626" text-anchor="start" font-family="'Liberation Serif','Times New Roman',serif">0.6</text>
<line x1="1620.3" y1="989.0" x2="1613.9" y2="989.0" stroke="#404040" stroke-width="1.6"/>
<text x="1631.3" y="1003.0" font-size="38.5" fill="#262626" text-anchor="start" font-family="'Liberation Serif','Times New Roman',serif">0.4</text>
<line x1="1620.3" y1="1102.1" x2="1613.9" y2="1102.1" stroke="#404040" stroke-width="1.6"/>
<text x="1631.3" y="1116.1" font-size="38.5" fill="#262626" text-anchor="start" font-family="'Liberation Serif','Times New Roman',serif">0.2</text>
<line x1="1620.3" y1="1215.2" x2="1613.9" y2="1215.2" stroke="#404040" stroke-width="1.6"/>
<text x="1631.3" y="1229.2" font-size="38.5" fill="#262626" text-anchor="start" font-family="'Liberation Serif','Times New Roman',serif">0</text>
<line x1="1620.3" y1="1328.3" x2="1613.9" y2="1328.3" stroke="#404040" stroke-width="1.6"/>
<text x="1631.3" y="1342.3" font-size="38.5" fill="#262626" text-anchor="start" font-family="'Liberation Serif','Times New Roman',serif">-0.2</text>
<text x="1596.5" y="698.9" font-size="40" fill="#000" text-anchor="middle" font-family="'Liberation Serif','Times New Roman',serif">V (m/s)</text></svg></body></html>
